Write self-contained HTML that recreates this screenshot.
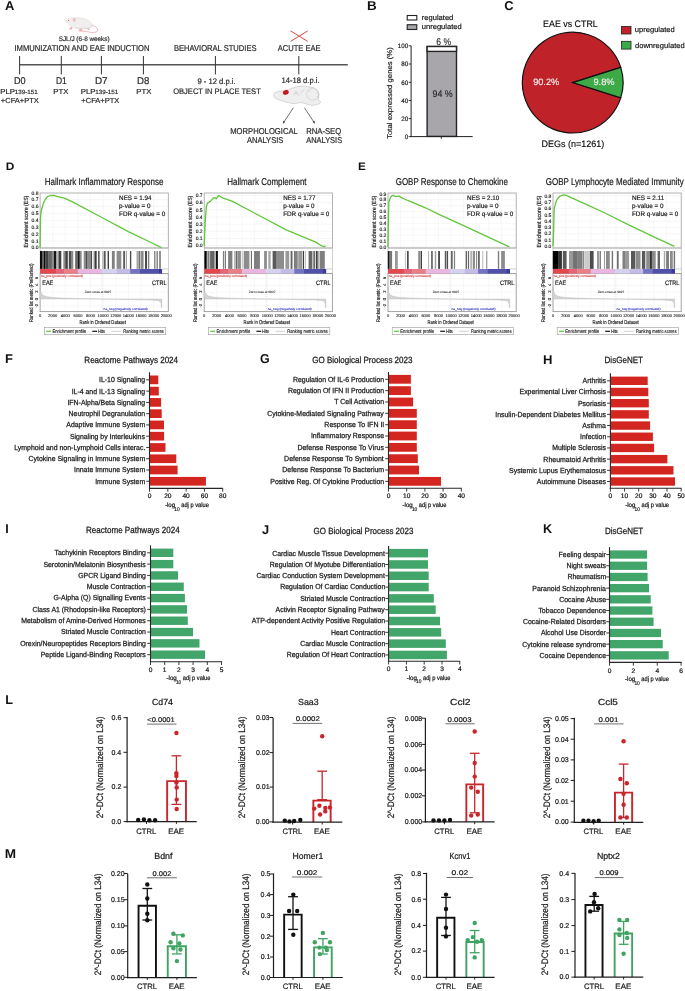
<!DOCTYPE html>
<html><head><meta charset="utf-8"><style>
html,body{margin:0;padding:0;background:#fff;width:685px;height:991px;overflow:hidden}
svg{display:block;font-family:"Liberation Sans",sans-serif;will-change:transform;text-rendering:geometricPrecision}
</style></head><body>
<svg width="685" height="991" viewBox="0 0 685 991">
<rect x="0" y="0" width="685" height="991" fill="#fff"/>
<text x="4.98" y="9.60" font-size="12.80" textLength="9.36" lengthAdjust="spacingAndGlyphs" font-weight="bold" fill="#111">A</text>
<g>
<path d="M90.6,25.0 C94.5,25.6 97.8,27.4 97.6,30.2 C97.2,32.4 93.5,32.8 90.2,32.2 C86.5,31.6 83,31.0 79.6,31.0" fill="none" stroke="#e9a0a0" stroke-width="0.70"/>
<path d="M65.2,20.8 C66.6,19.6 68.8,18.4 71.0,17.9 C74,17.6 77.5,17.6 80.6,17.9 C85,18.4 88.6,20.0 90.9,22.3 C92.2,23.8 92.4,25.6 91.6,26.8 C90.2,28.4 87.4,29.0 83.7,28.9 C80,28.8 76.6,28.4 73.5,27.4 C71.2,26.4 69.4,25 68.0,23.6 C66.8,22.6 65.6,21.8 65.2,20.8 Z" fill="#f1efee" stroke="#d5d2d0" stroke-width="0.40"/>
<path d="M76,27.8 C80,28.8 85,28.9 89.6,27.6 C91,26.8 91.6,25.6 91.2,24.4" fill="none" stroke="#dcd8d4" stroke-width="0.80"/>
<ellipse cx="74.2" cy="19.8" rx="1.3" ry="1.6" fill="#f0c0c0" stroke="#e4a8a8" stroke-width="0.3"/>
<circle cx="68.60" cy="20.40" r="0.50" fill="#c03838"/>
<path d="M70.2,27.0 C70.4,28.2 69.4,29.0 68.8,29.4 L71.6,29.6 C72.4,28.8 72.6,27.8 72.4,27.2" fill="#f0b0b0"/>
<path d="M79.6,28.8 C79.4,30 78.6,30.8 78.4,31.2 L82.4,31.0 C82.4,30.2 81.8,29.4 81.6,28.8 Z" fill="#f0b0b0"/>
<path d="M88.4,28.2 L90.6,29.6 L88.6,30.0 L86.6,28.8 Z" fill="#f0b0b0"/>
</g>
<text x="58.71" y="41.10" font-size="6.60" textLength="50.88" lengthAdjust="spacingAndGlyphs" fill="#2a2a2a" stroke="#2a2a2a" stroke-width="0.189">SJL/J (6-8 weeks)</text>
<text x="14.50" y="50.80" font-size="8.50" textLength="135.02" lengthAdjust="spacingAndGlyphs" fill="#2a2a2a" stroke="#2a2a2a" stroke-width="0.200">IMMUNIZATION AND EAE INDUCTION</text>
<text x="173.88" y="50.80" font-size="8.50" textLength="82.66" lengthAdjust="spacingAndGlyphs" fill="#2a2a2a" stroke="#2a2a2a" stroke-width="0.200">BEHAVIORAL STUDIES</text>
<text x="277.69" y="50.60" font-size="8.50" textLength="42.84" lengthAdjust="spacingAndGlyphs" fill="#2a2a2a" stroke="#2a2a2a" stroke-width="0.200">ACUTE EAE</text>
<line x1="290.60" y1="30.90" x2="307.70" y2="41.40" stroke="#d94a4a" stroke-width="1.00"/>
<line x1="290.60" y1="41.40" x2="307.70" y2="30.90" stroke="#d94a4a" stroke-width="1.00"/>
<line x1="19.60" y1="64.80" x2="347.80" y2="64.80" stroke="#555" stroke-width="1.40"/>
<line x1="19.60" y1="56.00" x2="19.60" y2="74.40" stroke="#333" stroke-width="1.00"/>
<line x1="61.30" y1="56.00" x2="61.30" y2="74.40" stroke="#333" stroke-width="1.00"/>
<line x1="101.40" y1="56.00" x2="101.40" y2="74.40" stroke="#333" stroke-width="1.00"/>
<line x1="143.40" y1="56.00" x2="143.40" y2="74.40" stroke="#333" stroke-width="1.00"/>
<line x1="215.40" y1="56.00" x2="215.40" y2="74.40" stroke="#333" stroke-width="1.00"/>
<line x1="298.80" y1="56.00" x2="298.80" y2="74.40" stroke="#333" stroke-width="1.00"/>
<text x="14.06" y="83.90" font-size="9.90" textLength="11.60" lengthAdjust="spacingAndGlyphs" fill="#2a2a2a" stroke="#2a2a2a" stroke-width="0.200">D0</text>
<text x="55.91" y="83.90" font-size="9.90" textLength="10.81" lengthAdjust="spacingAndGlyphs" fill="#2a2a2a" stroke="#2a2a2a" stroke-width="0.200">D1</text>
<text x="94.99" y="83.90" font-size="9.90" textLength="12.60" lengthAdjust="spacingAndGlyphs" fill="#2a2a2a" stroke="#2a2a2a" stroke-width="0.200">D7</text>
<text x="137.01" y="83.90" font-size="9.90" textLength="12.31" lengthAdjust="spacingAndGlyphs" fill="#2a2a2a" stroke="#2a2a2a" stroke-width="0.200">D8</text>
<text x="0.26" y="94.00" font-size="7.30" textLength="14.75" lengthAdjust="spacingAndGlyphs" fill="#2a2a2a" stroke="#2a2a2a" stroke-width="0.200">PLP</text>
<text x="14.72" y="94.00" font-size="6.00" textLength="22.98" lengthAdjust="spacingAndGlyphs" fill="#2a2a2a" stroke="#2a2a2a" stroke-width="0.171">139-151</text>
<text x="0.84" y="102.60" font-size="7.30" textLength="38.02" lengthAdjust="spacingAndGlyphs" fill="#2a2a2a" stroke="#2a2a2a" stroke-width="0.200">+CFA+PTX</text>
<text x="80.76" y="94.00" font-size="7.30" textLength="14.75" lengthAdjust="spacingAndGlyphs" fill="#2a2a2a" stroke="#2a2a2a" stroke-width="0.200">PLP</text>
<text x="95.22" y="94.00" font-size="6.00" textLength="22.98" lengthAdjust="spacingAndGlyphs" fill="#2a2a2a" stroke="#2a2a2a" stroke-width="0.171">139-151</text>
<text x="81.34" y="102.60" font-size="7.30" textLength="38.02" lengthAdjust="spacingAndGlyphs" fill="#2a2a2a" stroke="#2a2a2a" stroke-width="0.200">+CFA+PTX</text>
<text x="53.36" y="94.00" font-size="7.30" textLength="15.10" lengthAdjust="spacingAndGlyphs" fill="#2a2a2a" stroke="#2a2a2a" stroke-width="0.200">PTX</text>
<text x="136.37" y="94.00" font-size="7.30" textLength="14.99" lengthAdjust="spacingAndGlyphs" fill="#2a2a2a" stroke="#2a2a2a" stroke-width="0.200">PTX</text>
<text x="197.44" y="83.90" font-size="8.00" textLength="38.26" lengthAdjust="spacingAndGlyphs" fill="#2a2a2a" stroke="#2a2a2a" stroke-width="0.200">9 - 12 d.p.i.</text>
<text x="173.14" y="93.70" font-size="8.00" textLength="87.63" lengthAdjust="spacingAndGlyphs" fill="#2a2a2a" stroke="#2a2a2a" stroke-width="0.200">OBJECT IN PLACE TEST</text>
<text x="281.52" y="82.50" font-size="8.00" textLength="38.07" lengthAdjust="spacingAndGlyphs" fill="#2a2a2a" stroke="#2a2a2a" stroke-width="0.200">14-18 d.p.i.</text>
<path d="M274.0,94.0 C274.6,92.8 275.4,92.2 276.4,92.0 C278.6,91.6 280.8,91.2 282.9,90.8 C285,90.2 287.2,89.8 289.3,89.2 C291.8,88.4 294,87.4 296.5,86.8 C299,86.2 301.4,85.9 303.7,86.0 C305.2,86.1 306.5,86.4 307.8,86.8 C309.7,87 311.6,87.1 313.4,87.6 C315.2,88.4 316.6,89.4 317.4,90.8 C318.4,92.1 319.0,93.5 319.0,94.9 C319.2,96.6 318.8,98.2 318.2,99.7 C319.2,100.4 320.2,101.2 320.6,102.1 C320.4,103.2 319.4,103.8 318.2,104.1 C316.2,104.8 314,105.3 311.8,105.3 C309.6,104.9 307.4,104.2 305.3,103.7 C303.7,103.1 302.1,102.6 300.5,102.5 C298.1,102.9 295.7,103.6 293.3,103.7 C290.9,103.3 288.5,102.6 286.1,102.1 C283.9,101.6 281.8,100.8 279.6,100.1 C278,99.5 276.3,98.6 274.8,97.7 C273.8,96.6 273.6,95.2 274.0,94.0 Z" fill="#efefef" stroke="#b9b9b9" stroke-width="0.55"/>
<circle cx="312.6" cy="94.2" r="6.0" fill="none" stroke="#c2c2c2" stroke-width="0.5"/>
<path d="M307.6,90.6 L309.8,92.4 M308.8,89.2 L310.6,91.2 M315.8,92.6 L317.8,93.4 M316.4,96.6 L318.4,96.6" fill="none" stroke="#c8c8c8" stroke-width="0.45"/>
<path d="M293.3,95.4 L296.0,90.9 L298.9,95.7 M294.4,93.8 L297.6,93.8 M300.5,92.8 L304.5,89.6" fill="none" stroke="#bdbdbd" stroke-width="0.50"/>
<ellipse cx="285.8" cy="92.4" rx="3.0" ry="2.3" transform="rotate(-22 285.8 92.4)" fill="#c8171d"/>
<line x1="293.40" y1="107.70" x2="283.00" y2="123.40" stroke="#333" stroke-width="0.70"/>
<path d="M283.00,123.40 L283.35,120.82 L285.24,122.07 Z" fill="#333"/>
<line x1="304.40" y1="107.70" x2="314.80" y2="123.40" stroke="#333" stroke-width="0.70"/>
<path d="M314.80,123.40 L312.56,122.07 L314.45,120.82 Z" fill="#333"/>
<text x="230.17" y="134.30" font-size="8.50" textLength="67.68" lengthAdjust="spacingAndGlyphs" fill="#2a2a2a" stroke="#2a2a2a" stroke-width="0.200">MORPHOLOGICAL</text>
<text x="246.89" y="142.90" font-size="8.50" textLength="36.46" lengthAdjust="spacingAndGlyphs" fill="#2a2a2a" stroke="#2a2a2a" stroke-width="0.200">ANALYSIS</text>
<text x="306.17" y="134.30" font-size="8.50" textLength="35.10" lengthAdjust="spacingAndGlyphs" fill="#2a2a2a" stroke="#2a2a2a" stroke-width="0.200">RNA-SEQ</text>
<text x="306.19" y="142.90" font-size="8.50" textLength="35.95" lengthAdjust="spacingAndGlyphs" fill="#2a2a2a" stroke="#2a2a2a" stroke-width="0.200">ANALYSIS</text>
<text x="367.00" y="9.80" font-size="12.80" textLength="9.71" lengthAdjust="spacingAndGlyphs" font-weight="bold" fill="#111">B</text>
<rect x="407.20" y="15.50" width="9.60" height="4.50" fill="#fff" stroke="#222" stroke-width="1.10"/>
<rect x="407.20" y="24.70" width="9.60" height="4.80" fill="#a8a6aa" stroke="#222" stroke-width="1.10"/>
<text x="421.80" y="19.60" font-size="7.40" textLength="31.49" lengthAdjust="spacingAndGlyphs" stroke="#222" stroke-width="0.150">regulated</text>
<text x="421.81" y="28.90" font-size="7.40" textLength="39.88" lengthAdjust="spacingAndGlyphs" stroke="#222" stroke-width="0.150">unregulated</text>
<rect x="427.10" y="46.50" width="29.40" height="89.90" fill="#a8a6aa" stroke="#262626" stroke-width="1.40"/>
<rect x="427.10" y="46.50" width="29.40" height="4.90" fill="#fff" stroke="#262626" stroke-width="1.40"/>
<line x1="411.10" y1="45.80" x2="411.10" y2="137.10" stroke="#222" stroke-width="1.00"/>
<line x1="410.60" y1="136.60" x2="472.70" y2="136.60" stroke="#222" stroke-width="1.00"/>
<line x1="441.30" y1="136.60" x2="441.30" y2="138.90" stroke="#222" stroke-width="0.90"/>
<line x1="408.70" y1="45.80" x2="411.10" y2="45.80" stroke="#222" stroke-width="0.90"/>
<text x="408.30" y="48.00" font-size="6.30" text-anchor="end" stroke="#222" stroke-width="0.135">100</text>
<line x1="408.70" y1="64.00" x2="411.10" y2="64.00" stroke="#222" stroke-width="0.90"/>
<text x="408.30" y="66.20" font-size="6.30" text-anchor="end" stroke="#222" stroke-width="0.135">80</text>
<line x1="408.70" y1="82.30" x2="411.10" y2="82.30" stroke="#222" stroke-width="0.90"/>
<text x="408.30" y="84.50" font-size="6.30" text-anchor="end" stroke="#222" stroke-width="0.135">60</text>
<line x1="408.70" y1="100.50" x2="411.10" y2="100.50" stroke="#222" stroke-width="0.90"/>
<text x="408.30" y="102.70" font-size="6.30" text-anchor="end" stroke="#222" stroke-width="0.135">40</text>
<line x1="408.70" y1="118.60" x2="411.10" y2="118.60" stroke="#222" stroke-width="0.90"/>
<text x="408.30" y="120.80" font-size="6.30" text-anchor="end" stroke="#222" stroke-width="0.135">20</text>
<line x1="408.70" y1="136.60" x2="411.10" y2="136.60" stroke="#222" stroke-width="0.90"/>
<text x="408.30" y="138.80" font-size="6.30" text-anchor="end" stroke="#222" stroke-width="0.135">0</text>
<text x="436.37" y="44.60" font-size="9.80" textLength="14.74" lengthAdjust="spacingAndGlyphs" fill="#2a2a2a" stroke="#2a2a2a" stroke-width="0.150">6 %</text>
<text x="432.49" y="97.00" font-size="9.70" textLength="20.13" lengthAdjust="spacingAndGlyphs" fill="#2a2a2a" stroke="#2a2a2a" stroke-width="0.150">94 %</text>
<text x="391.60" y="138.80" font-size="7.00" textLength="91.60" lengthAdjust="spacingAndGlyphs" stroke="#222" stroke-width="0.150" transform="rotate(-90 391.60 138.80)">Total expressed genes (%)</text>
<text x="504.37" y="9.80" font-size="12.80" textLength="9.39" lengthAdjust="spacingAndGlyphs" font-weight="bold" fill="#111">C</text>
<text x="543.07" y="27.30" font-size="9.50" textLength="54.72" lengthAdjust="spacingAndGlyphs" stroke="#222" stroke-width="0.150">EAE vs CTRL</text>
<path d="M572.70,82.60 L620.73,67.33 A50.40,50.40 0 1,0 620.73,97.87 Z" fill="#c0222a" stroke="#111" stroke-width="1.20"/>
<path d="M572.70,82.60 L620.73,67.33 A50.40,50.40 0 0,1 620.73,97.87 Z" fill="#3daa48" stroke="#111" stroke-width="1.20"/>
<text x="533.17" y="85.30" font-size="9.30" textLength="26.06" lengthAdjust="spacingAndGlyphs" fill="#f4eeee" stroke="#f4eeee" stroke-width="0.150">90.2%</text>
<text x="593.46" y="85.30" font-size="9.30" textLength="21.17" lengthAdjust="spacingAndGlyphs" fill="#f4eeee" stroke="#f4eeee" stroke-width="0.150">9.8%</text>
<rect x="621.40" y="26.40" width="9.60" height="7.60" fill="#c0222a" stroke="#222" stroke-width="0.80"/>
<rect x="621.40" y="41.30" width="9.60" height="7.80" fill="#3daa48" stroke="#222" stroke-width="0.80"/>
<text x="634.81" y="32.00" font-size="7.40" textLength="39.98" lengthAdjust="spacingAndGlyphs" stroke="#222" stroke-width="0.150">upregulated</text>
<text x="634.98" y="47.80" font-size="7.40" textLength="49.71" lengthAdjust="spacingAndGlyphs" stroke="#222" stroke-width="0.150">downregulated</text>
<text x="541.56" y="146.60" font-size="9.30" textLength="62.59" lengthAdjust="spacingAndGlyphs" stroke="#222" stroke-width="0.150">DEGs (n=1261)</text>
<text x="5.80" y="169.70" font-size="11.00" textLength="8.60" lengthAdjust="spacingAndGlyphs" font-weight="bold" fill="#111">D</text>
<text x="357.90" y="169.70" font-size="11.00" textLength="7.80" lengthAdjust="spacingAndGlyphs" font-weight="bold" fill="#111">E</text>
<text x="44.70" y="184.80" font-size="9.90" textLength="118.70" lengthAdjust="spacingAndGlyphs" fill="#1a1a1a" stroke="#1a1a1a" stroke-width="0.200">Hallmark Inflammatory Response</text>
<path d="M52.71,193 V248 M52.71,274 V311.6 M65.32,193 V248 M65.32,274 V311.6 M77.93,193 V248 M77.93,274 V311.6 M90.54,193 V248 M90.54,274 V311.6 M103.15,193 V248 M103.15,274 V311.6 M115.76,193 V248 M115.76,274 V311.6 M128.37,193 V248 M128.37,274 V311.6 M140.98,193 V248 M140.98,274 V311.6 M153.59,193 V248 M153.59,274 V311.6 M40.10,247.70 H168.30 M40.10,240.85 H168.30 M40.10,234.00 H168.30 M40.10,227.15 H168.30 M40.10,220.30 H168.30 M40.10,213.45 H168.30 M40.10,206.60 H168.30 M40.10,199.75 H168.30 M40.10,278.60 H168.30 M40.10,285.40 H168.30 M40.10,292.20 H168.30 M40.10,305.80 H168.30" fill="none" stroke="#efefef" stroke-width="0.50"/>
<rect x="40.10" y="193.00" width="128.20" height="55.00" fill="none" stroke="#a0a0a0" stroke-width="0.80"/>
<rect x="40.10" y="248.00" width="128.20" height="25.60" fill="none" stroke="#b0b0b0" stroke-width="0.60"/>
<rect x="40.10" y="273.60" width="128.20" height="38.00" fill="none" stroke="#9a9a9a" stroke-width="0.90"/>
<text x="38.50" y="249.40" font-size="5.00" text-anchor="end" fill="#1a1a1a" stroke="#1a1a1a" stroke-width="0.143">0.0</text>
<text x="38.50" y="242.55" font-size="5.00" text-anchor="end" fill="#1a1a1a" stroke="#1a1a1a" stroke-width="0.143">0.1</text>
<text x="38.50" y="235.70" font-size="5.00" text-anchor="end" fill="#1a1a1a" stroke="#1a1a1a" stroke-width="0.143">0.2</text>
<text x="38.50" y="228.85" font-size="5.00" text-anchor="end" fill="#1a1a1a" stroke="#1a1a1a" stroke-width="0.143">0.3</text>
<text x="38.50" y="222.00" font-size="5.00" text-anchor="end" fill="#1a1a1a" stroke="#1a1a1a" stroke-width="0.143">0.4</text>
<text x="38.50" y="215.15" font-size="5.00" text-anchor="end" fill="#1a1a1a" stroke="#1a1a1a" stroke-width="0.143">0.5</text>
<text x="38.50" y="208.30" font-size="5.00" text-anchor="end" fill="#1a1a1a" stroke="#1a1a1a" stroke-width="0.143">0.6</text>
<text x="38.50" y="201.45" font-size="5.00" text-anchor="end" fill="#1a1a1a" stroke="#1a1a1a" stroke-width="0.143">0.7</text>
<text x="38.50" y="194.60" font-size="5.00" text-anchor="end" fill="#1a1a1a" stroke="#1a1a1a" stroke-width="0.143">0.8</text>
<polyline points="40.10,247.70 40.40,220.30 41.00,212.08 42.20,207.28 43.40,203.17 45.10,199.75 47.40,196.67 50.40,195.50 53.90,195.30 56.20,196.12 60.90,197.28 64.40,198.11 72.50,201.87 100.00,216.53 128.37,231.60 150.44,242.22 161.47,247.70" fill="none" stroke="#62c63c" stroke-width="1.3" stroke-linejoin="round"/>
<text x="119.10" y="200.40" font-size="6.50" textLength="32.30" lengthAdjust="spacingAndGlyphs" fill="#1a1a1a" stroke="#1a1a1a" stroke-width="0.186">NES = 1.94</text>
<text x="119.10" y="207.95" font-size="6.50" textLength="31.40" lengthAdjust="spacingAndGlyphs" fill="#1a1a1a" stroke="#1a1a1a" stroke-width="0.186">p-value = 0</text>
<text x="119.10" y="215.50" font-size="6.50" textLength="46.20" lengthAdjust="spacingAndGlyphs" fill="#1a1a1a" stroke="#1a1a1a" stroke-width="0.186">FDR q-value = 0</text>
<g><rect x="40.00" y="251" width="2.00" height="17.9" fill="#000" fill-opacity="0.95"/><rect x="42.00" y="251" width="1.50" height="17.9" fill="#000" fill-opacity="0.60"/><rect x="43.50" y="251" width="1.90" height="17.9" fill="#000" fill-opacity="0.95"/><rect x="45.40" y="251" width="3.10" height="17.9" fill="#000" fill-opacity="0.75"/><rect x="48.50" y="251" width="3.40" height="17.9" fill="#000" fill-opacity="0.60"/><rect x="51.90" y="251" width="2.00" height="17.9" fill="#000" fill-opacity="0.45"/><rect x="53.90" y="251" width="2.50" height="17.9" fill="#000" fill-opacity="0.90"/><rect x="57.40" y="251" width="1.50" height="17.9" fill="#000" fill-opacity="0.45"/><rect x="58.90" y="251" width="2.40" height="17.9" fill="#000" fill-opacity="0.75"/><rect x="63.30" y="251" width="2.00" height="17.9" fill="#000" fill-opacity="0.45"/><rect x="65.30" y="251" width="2.50" height="17.9" fill="#000" fill-opacity="0.75"/><rect x="68.80" y="251" width="2.50" height="17.9" fill="#000" fill-opacity="0.70"/><rect x="71.30" y="251" width="2.00" height="17.9" fill="#000" fill-opacity="0.45"/><rect x="75.20" y="251" width="2.50" height="17.9" fill="#000" fill-opacity="0.60"/><rect x="77.70" y="251" width="2.00" height="17.9" fill="#000" fill-opacity="0.90"/><rect x="79.70" y="251" width="2.00" height="17.9" fill="#000" fill-opacity="0.45"/><rect x="83.70" y="251" width="2.00" height="17.9" fill="#000" fill-opacity="0.45"/><rect x="85.70" y="251" width="1.50" height="17.9" fill="#000" fill-opacity="0.70"/><rect x="87.20" y="251" width="3.40" height="17.9" fill="#000" fill-opacity="0.45"/><rect x="90.60" y="251" width="1.50" height="17.9" fill="#000" fill-opacity="0.70"/><rect x="93.60" y="251" width="1.50" height="17.9" fill="#000" fill-opacity="0.45"/><rect x="95.10" y="251" width="1.50" height="17.9" fill="#000" fill-opacity="0.85"/><rect x="98.10" y="251" width="1.50" height="17.9" fill="#000" fill-opacity="0.70"/><rect x="102.40" y="251" width="0.90" height="17.9" fill="#000" fill-opacity="0.40"/><rect x="103.80" y="251" width="1.90" height="17.9" fill="#000" fill-opacity="0.65"/><rect x="107.60" y="251" width="1.40" height="17.9" fill="#000" fill-opacity="0.75"/><rect x="111.90" y="251" width="2.80" height="17.9" fill="#000" fill-opacity="0.50"/><rect x="116.60" y="251" width="4.70" height="17.9" fill="#000" fill-opacity="0.45"/><rect x="123.20" y="251" width="1.90" height="17.9" fill="#000" fill-opacity="0.65"/><rect x="126.10" y="251" width="0.90" height="17.9" fill="#000" fill-opacity="0.40"/><rect x="129.90" y="251" width="1.40" height="17.9" fill="#000" fill-opacity="0.70"/><rect x="136.50" y="251" width="1.50" height="17.9" fill="#000" fill-opacity="0.35"/><rect x="138.40" y="251" width="1.90" height="17.9" fill="#000" fill-opacity="0.55"/><rect x="140.80" y="251" width="2.80" height="17.9" fill="#000" fill-opacity="0.45"/><rect x="145.00" y="251" width="2.00" height="17.9" fill="#000" fill-opacity="0.70"/><rect x="147.90" y="251" width="1.40" height="17.9" fill="#000" fill-opacity="0.50"/><rect x="154.00" y="251" width="1.50" height="17.9" fill="#000" fill-opacity="0.45"/><rect x="156.50" y="251" width="1.40" height="17.9" fill="#000" fill-opacity="0.50"/><rect x="159.30" y="251" width="1.40" height="17.9" fill="#000" fill-opacity="0.60"/></g>
<rect x="40.10" y="269.00" width="16.12" height="4.60" fill="#e5474f"/>
<rect x="55.92" y="269.00" width="8.82" height="4.60" fill="#e56478"/>
<rect x="64.44" y="269.00" width="13.69" height="4.60" fill="#ea7f88"/>
<rect x="77.82" y="269.00" width="24.64" height="4.60" fill="#e8b6de"/>
<rect x="102.16" y="269.00" width="14.90" height="4.60" fill="#d4d2ee"/>
<rect x="116.76" y="269.00" width="13.69" height="4.60" fill="#c4bce4"/>
<rect x="130.15" y="269.00" width="10.03" height="4.60" fill="#7373c4"/>
<rect x="139.88" y="269.00" width="19.28" height="4.60" fill="#5050aa"/>
<rect x="158.87" y="269.00" width="3.22" height="4.60" fill="#3c3ca0"/>
<text x="40.90" y="277.30" font-size="3.20" textLength="42.00" lengthAdjust="spacingAndGlyphs" fill="#d03030" stroke="#d03030" stroke-width="0.091">na_pos (positively correlated)</text>
<text x="103.60" y="310.20" font-size="3.20" textLength="44.00" lengthAdjust="spacingAndGlyphs" fill="#3030c0" stroke="#3030c0" stroke-width="0.091">na_neg (negatively correlated)</text>
<line x1="161.79" y1="269.00" x2="168.30" y2="269.00" stroke="#b0b0b0" stroke-width="0.60"/>
<path d="M40.10,299.00 L40.10,286.76 L40.48,290.16 L41.05,292.54 L42.31,294.58 L44.51,295.94 L47.67,296.79 L52.71,297.47 L62.17,297.98 L77.93,298.49 L101.89,299.00 L128.37,299.51 L150.44,300.02 L158.63,300.70 L160.84,302.40 L161.47,307.84 L161.79,307.84 L161.79,299.00 Z" fill="#d4d4d4" stroke="#b8b8b8" stroke-width="0.40"/>
<line x1="102.06" y1="274.00" x2="102.06" y2="311.60" stroke="#cfcfcf" stroke-width="0.50" stroke-dasharray="1,1"/>
<text x="98.06" y="293.40" font-size="3.20" text-anchor="middle" fill="#333" stroke="#333" stroke-width="0.091">Zero cross at 9827</text>
<text x="37.90" y="278.00" font-size="4.20" text-anchor="middle" fill="#1a1a1a" stroke="#1a1a1a" stroke-width="0.120" transform="rotate(-90 37.90 278.00)">6</text>
<text x="37.90" y="284.70" font-size="4.20" text-anchor="middle" fill="#1a1a1a" stroke="#1a1a1a" stroke-width="0.120" transform="rotate(-90 37.90 284.70)">4</text>
<text x="37.90" y="291.50" font-size="4.20" text-anchor="middle" fill="#1a1a1a" stroke="#1a1a1a" stroke-width="0.120" transform="rotate(-90 37.90 291.50)">2</text>
<text x="37.90" y="299.00" font-size="4.20" text-anchor="middle" fill="#1a1a1a" stroke="#1a1a1a" stroke-width="0.120" transform="rotate(-90 37.90 299.00)">0</text>
<text x="37.90" y="305.70" font-size="4.20" text-anchor="middle" fill="#1a1a1a" stroke="#1a1a1a" stroke-width="0.120" transform="rotate(-90 37.90 305.70)">-2</text>
<text x="42.20" y="284.70" font-size="6.40" textLength="11.10" lengthAdjust="spacingAndGlyphs" fill="#1a1a1a" stroke="#1a1a1a" stroke-width="0.183">EAE</text>
<text x="152.00" y="284.90" font-size="6.40" textLength="14.50" lengthAdjust="spacingAndGlyphs" fill="#1a1a1a" stroke="#1a1a1a" stroke-width="0.183">CTRL</text>
<text x="40.10" y="316.80" font-size="4.00" text-anchor="middle" fill="#1a1a1a" stroke="#1a1a1a" stroke-width="0.114">0</text>
<text x="52.71" y="316.80" font-size="4.00" text-anchor="middle" fill="#1a1a1a" stroke="#1a1a1a" stroke-width="0.114">2000</text>
<text x="65.32" y="316.80" font-size="4.00" text-anchor="middle" fill="#1a1a1a" stroke="#1a1a1a" stroke-width="0.114">4000</text>
<text x="77.93" y="316.80" font-size="4.00" text-anchor="middle" fill="#1a1a1a" stroke="#1a1a1a" stroke-width="0.114">6000</text>
<text x="90.54" y="316.80" font-size="4.00" text-anchor="middle" fill="#1a1a1a" stroke="#1a1a1a" stroke-width="0.114">8000</text>
<text x="103.15" y="316.80" font-size="4.00" text-anchor="middle" fill="#1a1a1a" stroke="#1a1a1a" stroke-width="0.114">10000</text>
<text x="115.76" y="316.80" font-size="4.00" text-anchor="middle" fill="#1a1a1a" stroke="#1a1a1a" stroke-width="0.114">12000</text>
<text x="128.37" y="316.80" font-size="4.00" text-anchor="middle" fill="#1a1a1a" stroke="#1a1a1a" stroke-width="0.114">14000</text>
<text x="140.98" y="316.80" font-size="4.00" text-anchor="middle" fill="#1a1a1a" stroke="#1a1a1a" stroke-width="0.114">16000</text>
<text x="153.59" y="316.80" font-size="4.00" text-anchor="middle" fill="#1a1a1a" stroke="#1a1a1a" stroke-width="0.114">18000</text>
<text x="166.20" y="316.80" font-size="4.00" text-anchor="middle" fill="#1a1a1a" stroke="#1a1a1a" stroke-width="0.114">20000</text>
<text x="79.50" y="324.20" font-size="5.60" textLength="46.30" lengthAdjust="spacingAndGlyphs" fill="#1a1a1a" stroke="#1a1a1a" stroke-width="0.160">Rank in Ordered Dataset</text>
<text x="27.70" y="247.50" font-size="5.90" textLength="51.80" lengthAdjust="spacingAndGlyphs" fill="#1a1a1a" stroke="#1a1a1a" stroke-width="0.169" transform="rotate(-90 27.70 247.50)">Enrichment score (ES)</text>
<text x="32.50" y="322.00" font-size="5.40" textLength="58.30" lengthAdjust="spacingAndGlyphs" fill="#1a1a1a" stroke="#1a1a1a" stroke-width="0.154" transform="rotate(-90 32.50 322.00)">Ranked list metric (PreRanked)</text>
<rect x="44.30" y="327.50" width="121.40" height="7.20" fill="#fff" stroke="#9a9a9a" stroke-width="0.60"/>
<line x1="46.10" y1="331.30" x2="51.10" y2="331.30" stroke="#5ec43a" stroke-width="1.20"/>
<text x="52.40" y="332.90" font-size="5.00" textLength="33.80" lengthAdjust="spacingAndGlyphs" fill="#1a1a1a" stroke="#1a1a1a" stroke-width="0.143">Enrichment profile</text>
<line x1="92.30" y1="331.30" x2="97.10" y2="331.30" stroke="#111" stroke-width="1.20"/>
<text x="98.00" y="332.90" font-size="5.00" textLength="7.00" lengthAdjust="spacingAndGlyphs" fill="#1a1a1a" stroke="#1a1a1a" stroke-width="0.143">Hits</text>
<line x1="111.30" y1="331.30" x2="120.80" y2="331.30" stroke="#bbb" stroke-width="0.70"/>
<text x="123.20" y="332.90" font-size="5.00" textLength="40.60" lengthAdjust="spacingAndGlyphs" fill="#1a1a1a" stroke="#1a1a1a" stroke-width="0.143">Ranking metric scores</text>
<text x="227.30" y="184.80" font-size="9.90" textLength="79.30" lengthAdjust="spacingAndGlyphs" fill="#1a1a1a" stroke="#1a1a1a" stroke-width="0.200">Hallmark Complement</text>
<path d="M216.81,193 V248 M216.81,274 V311.6 M229.42,193 V248 M229.42,274 V311.6 M242.03,193 V248 M242.03,274 V311.6 M254.64,193 V248 M254.64,274 V311.6 M267.25,193 V248 M267.25,274 V311.6 M279.86,193 V248 M279.86,274 V311.6 M292.47,193 V248 M292.47,274 V311.6 M305.08,193 V248 M305.08,274 V311.6 M317.69,193 V248 M317.69,274 V311.6 M204.20,245.70 H332.40 M204.20,238.53 H332.40 M204.20,231.36 H332.40 M204.20,224.19 H332.40 M204.20,217.02 H332.40 M204.20,209.85 H332.40 M204.20,202.68 H332.40 M204.20,195.51 H332.40 M204.20,278.60 H332.40 M204.20,285.40 H332.40 M204.20,292.20 H332.40 M204.20,305.80 H332.40" fill="none" stroke="#efefef" stroke-width="0.50"/>
<rect x="204.20" y="193.00" width="128.20" height="55.00" fill="none" stroke="#a0a0a0" stroke-width="0.80"/>
<rect x="204.20" y="248.00" width="128.20" height="25.60" fill="none" stroke="#b0b0b0" stroke-width="0.60"/>
<rect x="204.20" y="273.60" width="128.20" height="38.00" fill="none" stroke="#9a9a9a" stroke-width="0.90"/>
<text x="202.60" y="247.40" font-size="5.00" text-anchor="end" fill="#1a1a1a" stroke="#1a1a1a" stroke-width="0.143">0.0</text>
<text x="202.60" y="240.23" font-size="5.00" text-anchor="end" fill="#1a1a1a" stroke="#1a1a1a" stroke-width="0.143">0.1</text>
<text x="202.60" y="233.06" font-size="5.00" text-anchor="end" fill="#1a1a1a" stroke="#1a1a1a" stroke-width="0.143">0.2</text>
<text x="202.60" y="225.89" font-size="5.00" text-anchor="end" fill="#1a1a1a" stroke="#1a1a1a" stroke-width="0.143">0.3</text>
<text x="202.60" y="218.72" font-size="5.00" text-anchor="end" fill="#1a1a1a" stroke="#1a1a1a" stroke-width="0.143">0.4</text>
<text x="202.60" y="211.55" font-size="5.00" text-anchor="end" fill="#1a1a1a" stroke="#1a1a1a" stroke-width="0.143">0.5</text>
<text x="202.60" y="204.38" font-size="5.00" text-anchor="end" fill="#1a1a1a" stroke="#1a1a1a" stroke-width="0.143">0.6</text>
<text x="202.60" y="197.21" font-size="5.00" text-anchor="end" fill="#1a1a1a" stroke="#1a1a1a" stroke-width="0.143">0.7</text>
<polyline points="204.20,245.70 205.10,223.47 206.30,206.98 207.40,203.11 210.40,201.39 213.30,197.80 215.00,197.59 216.20,198.81 218.50,195.51 223.20,198.09 232.60,201.39 260.00,216.02 286.16,229.93 315.80,242.11 321.47,245.70 324.00,246.78 325.57,245.70" fill="none" stroke="#62c63c" stroke-width="1.3" stroke-linejoin="round"/>
<text x="283.20" y="200.40" font-size="6.50" textLength="32.30" lengthAdjust="spacingAndGlyphs" fill="#1a1a1a" stroke="#1a1a1a" stroke-width="0.186">NES = 1.77</text>
<text x="283.20" y="207.95" font-size="6.50" textLength="31.40" lengthAdjust="spacingAndGlyphs" fill="#1a1a1a" stroke="#1a1a1a" stroke-width="0.186">p-value = 0</text>
<text x="283.20" y="215.50" font-size="6.50" textLength="46.20" lengthAdjust="spacingAndGlyphs" fill="#1a1a1a" stroke="#1a1a1a" stroke-width="0.186">FDR q-value = 0</text>
<g><rect x="204.40" y="251" width="2.30" height="17.9" fill="#000" fill-opacity="1.00"/><rect x="206.70" y="251" width="1.20" height="17.9" fill="#000" fill-opacity="0.30"/><rect x="207.90" y="251" width="1.70" height="17.9" fill="#000" fill-opacity="0.50"/><rect x="210.10" y="251" width="4.20" height="17.9" fill="#000" fill-opacity="0.60"/><rect x="214.30" y="251" width="1.50" height="17.9" fill="#000" fill-opacity="0.35"/><rect x="216.00" y="251" width="1.90" height="17.9" fill="#000" fill-opacity="0.95"/><rect x="222.90" y="251" width="1.10" height="17.9" fill="#000" fill-opacity="0.50"/><rect x="224.80" y="251" width="0.90" height="17.9" fill="#000" fill-opacity="0.75"/><rect x="228.10" y="251" width="4.30" height="17.9" fill="#000" fill-opacity="0.50"/><rect x="234.30" y="251" width="0.90" height="17.9" fill="#000" fill-opacity="0.40"/><rect x="235.70" y="251" width="1.60" height="17.9" fill="#000" fill-opacity="0.60"/><rect x="237.60" y="251" width="3.30" height="17.9" fill="#000" fill-opacity="0.45"/><rect x="241.80" y="251" width="1.00" height="17.9" fill="#000" fill-opacity="0.25"/><rect x="243.70" y="251" width="5.70" height="17.9" fill="#000" fill-opacity="0.45"/><rect x="250.90" y="251" width="0.90" height="17.9" fill="#000" fill-opacity="0.70"/><rect x="254.00" y="251" width="5.90" height="17.9" fill="#000" fill-opacity="0.50"/><rect x="264.10" y="251" width="2.80" height="17.9" fill="#000" fill-opacity="0.45"/><rect x="268.30" y="251" width="2.40" height="17.9" fill="#000" fill-opacity="0.35"/><rect x="272.60" y="251" width="3.80" height="17.9" fill="#000" fill-opacity="0.65"/><rect x="276.40" y="251" width="7.60" height="17.9" fill="#000" fill-opacity="0.45"/><rect x="285.40" y="251" width="3.80" height="17.9" fill="#000" fill-opacity="0.40"/><rect x="290.60" y="251" width="1.90" height="17.9" fill="#000" fill-opacity="0.60"/><rect x="293.90" y="251" width="3.80" height="17.9" fill="#000" fill-opacity="0.50"/><rect x="298.20" y="251" width="4.30" height="17.9" fill="#000" fill-opacity="0.40"/><rect x="303.00" y="251" width="0.90" height="17.9" fill="#000" fill-opacity="0.85"/><rect x="304.80" y="251" width="1.00" height="17.9" fill="#000" fill-opacity="0.30"/><rect x="308.60" y="251" width="3.80" height="17.9" fill="#000" fill-opacity="0.60"/><rect x="313.40" y="251" width="1.40" height="17.9" fill="#000" fill-opacity="0.70"/><rect x="315.80" y="251" width="1.90" height="17.9" fill="#000" fill-opacity="0.75"/><rect x="318.10" y="251" width="1.50" height="17.9" fill="#000" fill-opacity="0.35"/><rect x="320.00" y="251" width="4.80" height="17.9" fill="#000" fill-opacity="0.50"/></g>
<rect x="204.20" y="269.00" width="16.12" height="4.60" fill="#e5474f"/>
<rect x="220.02" y="269.00" width="8.82" height="4.60" fill="#e56478"/>
<rect x="228.54" y="269.00" width="13.69" height="4.60" fill="#ea7f88"/>
<rect x="241.92" y="269.00" width="24.64" height="4.60" fill="#e8b6de"/>
<rect x="266.26" y="269.00" width="14.90" height="4.60" fill="#d4d2ee"/>
<rect x="280.86" y="269.00" width="13.69" height="4.60" fill="#c4bce4"/>
<rect x="294.25" y="269.00" width="10.03" height="4.60" fill="#7373c4"/>
<rect x="303.98" y="269.00" width="19.28" height="4.60" fill="#5050aa"/>
<rect x="322.97" y="269.00" width="3.22" height="4.60" fill="#3c3ca0"/>
<text x="205.00" y="277.30" font-size="3.20" textLength="42.00" lengthAdjust="spacingAndGlyphs" fill="#d03030" stroke="#d03030" stroke-width="0.091">na_pos (positively correlated)</text>
<text x="267.70" y="310.20" font-size="3.20" textLength="44.00" lengthAdjust="spacingAndGlyphs" fill="#3030c0" stroke="#3030c0" stroke-width="0.091">na_neg (negatively correlated)</text>
<line x1="325.89" y1="269.00" x2="332.40" y2="269.00" stroke="#b0b0b0" stroke-width="0.60"/>
<path d="M204.20,299.00 L204.20,286.76 L204.58,290.16 L205.15,292.54 L206.41,294.58 L208.61,295.94 L211.77,296.79 L216.81,297.47 L226.27,297.98 L242.03,298.49 L265.99,299.00 L292.47,299.51 L314.54,300.02 L322.73,300.70 L324.94,302.40 L325.57,307.84 L325.89,307.84 L325.89,299.00 Z" fill="#d4d4d4" stroke="#b8b8b8" stroke-width="0.40"/>
<line x1="266.16" y1="274.00" x2="266.16" y2="311.60" stroke="#cfcfcf" stroke-width="0.50" stroke-dasharray="1,1"/>
<text x="262.16" y="293.40" font-size="3.20" text-anchor="middle" fill="#333" stroke="#333" stroke-width="0.091">Zero cross at 9827</text>
<text x="202.00" y="278.00" font-size="4.20" text-anchor="middle" fill="#1a1a1a" stroke="#1a1a1a" stroke-width="0.120" transform="rotate(-90 202.00 278.00)">6</text>
<text x="202.00" y="284.70" font-size="4.20" text-anchor="middle" fill="#1a1a1a" stroke="#1a1a1a" stroke-width="0.120" transform="rotate(-90 202.00 284.70)">4</text>
<text x="202.00" y="291.50" font-size="4.20" text-anchor="middle" fill="#1a1a1a" stroke="#1a1a1a" stroke-width="0.120" transform="rotate(-90 202.00 291.50)">2</text>
<text x="202.00" y="299.00" font-size="4.20" text-anchor="middle" fill="#1a1a1a" stroke="#1a1a1a" stroke-width="0.120" transform="rotate(-90 202.00 299.00)">0</text>
<text x="202.00" y="305.70" font-size="4.20" text-anchor="middle" fill="#1a1a1a" stroke="#1a1a1a" stroke-width="0.120" transform="rotate(-90 202.00 305.70)">-2</text>
<text x="206.30" y="284.70" font-size="6.40" textLength="11.10" lengthAdjust="spacingAndGlyphs" fill="#1a1a1a" stroke="#1a1a1a" stroke-width="0.183">EAE</text>
<text x="316.10" y="284.90" font-size="6.40" textLength="14.50" lengthAdjust="spacingAndGlyphs" fill="#1a1a1a" stroke="#1a1a1a" stroke-width="0.183">CTRL</text>
<text x="204.20" y="316.80" font-size="4.00" text-anchor="middle" fill="#1a1a1a" stroke="#1a1a1a" stroke-width="0.114">0</text>
<text x="216.81" y="316.80" font-size="4.00" text-anchor="middle" fill="#1a1a1a" stroke="#1a1a1a" stroke-width="0.114">2000</text>
<text x="229.42" y="316.80" font-size="4.00" text-anchor="middle" fill="#1a1a1a" stroke="#1a1a1a" stroke-width="0.114">4000</text>
<text x="242.03" y="316.80" font-size="4.00" text-anchor="middle" fill="#1a1a1a" stroke="#1a1a1a" stroke-width="0.114">6000</text>
<text x="254.64" y="316.80" font-size="4.00" text-anchor="middle" fill="#1a1a1a" stroke="#1a1a1a" stroke-width="0.114">8000</text>
<text x="267.25" y="316.80" font-size="4.00" text-anchor="middle" fill="#1a1a1a" stroke="#1a1a1a" stroke-width="0.114">10000</text>
<text x="279.86" y="316.80" font-size="4.00" text-anchor="middle" fill="#1a1a1a" stroke="#1a1a1a" stroke-width="0.114">12000</text>
<text x="292.47" y="316.80" font-size="4.00" text-anchor="middle" fill="#1a1a1a" stroke="#1a1a1a" stroke-width="0.114">14000</text>
<text x="305.08" y="316.80" font-size="4.00" text-anchor="middle" fill="#1a1a1a" stroke="#1a1a1a" stroke-width="0.114">16000</text>
<text x="317.69" y="316.80" font-size="4.00" text-anchor="middle" fill="#1a1a1a" stroke="#1a1a1a" stroke-width="0.114">18000</text>
<text x="330.30" y="316.80" font-size="4.00" text-anchor="middle" fill="#1a1a1a" stroke="#1a1a1a" stroke-width="0.114">20000</text>
<text x="243.60" y="324.20" font-size="5.60" textLength="46.30" lengthAdjust="spacingAndGlyphs" fill="#1a1a1a" stroke="#1a1a1a" stroke-width="0.160">Rank in Ordered Dataset</text>
<text x="191.80" y="247.50" font-size="5.90" textLength="51.80" lengthAdjust="spacingAndGlyphs" fill="#1a1a1a" stroke="#1a1a1a" stroke-width="0.169" transform="rotate(-90 191.80 247.50)">Enrichment score (ES)</text>
<text x="196.60" y="322.00" font-size="5.40" textLength="58.30" lengthAdjust="spacingAndGlyphs" fill="#1a1a1a" stroke="#1a1a1a" stroke-width="0.154" transform="rotate(-90 196.60 322.00)">Ranked list metric (PreRanked)</text>
<rect x="208.40" y="327.50" width="121.40" height="7.20" fill="#fff" stroke="#9a9a9a" stroke-width="0.60"/>
<line x1="210.20" y1="331.30" x2="215.20" y2="331.30" stroke="#5ec43a" stroke-width="1.20"/>
<text x="216.50" y="332.90" font-size="5.00" textLength="33.80" lengthAdjust="spacingAndGlyphs" fill="#1a1a1a" stroke="#1a1a1a" stroke-width="0.143">Enrichment profile</text>
<line x1="256.40" y1="331.30" x2="261.20" y2="331.30" stroke="#111" stroke-width="1.20"/>
<text x="262.10" y="332.90" font-size="5.00" textLength="7.00" lengthAdjust="spacingAndGlyphs" fill="#1a1a1a" stroke="#1a1a1a" stroke-width="0.143">Hits</text>
<line x1="275.40" y1="331.30" x2="284.90" y2="331.30" stroke="#bbb" stroke-width="0.70"/>
<text x="287.30" y="332.90" font-size="5.00" textLength="40.60" lengthAdjust="spacingAndGlyphs" fill="#1a1a1a" stroke="#1a1a1a" stroke-width="0.143">Ranking metric scores</text>
<text x="395.70" y="184.80" font-size="9.90" textLength="112.30" lengthAdjust="spacingAndGlyphs" fill="#1a1a1a" stroke="#1a1a1a" stroke-width="0.200">GOBP Response to Chemokine</text>
<path d="M400.61,193 V248 M400.61,274 V311.6 M413.22,193 V248 M413.22,274 V311.6 M425.83,193 V248 M425.83,274 V311.6 M438.44,193 V248 M438.44,274 V311.6 M451.05,193 V248 M451.05,274 V311.6 M463.66,193 V248 M463.66,274 V311.6 M476.27,193 V248 M476.27,274 V311.6 M488.88,193 V248 M488.88,274 V311.6 M501.49,193 V248 M501.49,274 V311.6 M388.00,246.90 H516.20 M388.00,241.00 H516.20 M388.00,235.10 H516.20 M388.00,229.20 H516.20 M388.00,223.30 H516.20 M388.00,217.40 H516.20 M388.00,211.50 H516.20 M388.00,205.60 H516.20 M388.00,199.70 H516.20 M388.00,193.80 H516.20 M388.00,278.60 H516.20 M388.00,285.40 H516.20 M388.00,292.20 H516.20 M388.00,305.80 H516.20" fill="none" stroke="#efefef" stroke-width="0.50"/>
<rect x="388.00" y="193.00" width="128.20" height="55.00" fill="none" stroke="#a0a0a0" stroke-width="0.80"/>
<rect x="388.00" y="248.00" width="128.20" height="25.60" fill="none" stroke="#b0b0b0" stroke-width="0.60"/>
<rect x="388.00" y="273.60" width="128.20" height="38.00" fill="none" stroke="#9a9a9a" stroke-width="0.90"/>
<text x="386.40" y="248.60" font-size="5.00" text-anchor="end" fill="#1a1a1a" stroke="#1a1a1a" stroke-width="0.143">0.0</text>
<text x="386.40" y="242.70" font-size="5.00" text-anchor="end" fill="#1a1a1a" stroke="#1a1a1a" stroke-width="0.143">0.1</text>
<text x="386.40" y="236.80" font-size="5.00" text-anchor="end" fill="#1a1a1a" stroke="#1a1a1a" stroke-width="0.143">0.2</text>
<text x="386.40" y="230.90" font-size="5.00" text-anchor="end" fill="#1a1a1a" stroke="#1a1a1a" stroke-width="0.143">0.3</text>
<text x="386.40" y="225.00" font-size="5.00" text-anchor="end" fill="#1a1a1a" stroke="#1a1a1a" stroke-width="0.143">0.4</text>
<text x="386.40" y="219.10" font-size="5.00" text-anchor="end" fill="#1a1a1a" stroke="#1a1a1a" stroke-width="0.143">0.5</text>
<text x="386.40" y="213.20" font-size="5.00" text-anchor="end" fill="#1a1a1a" stroke="#1a1a1a" stroke-width="0.143">0.6</text>
<text x="386.40" y="207.30" font-size="5.00" text-anchor="end" fill="#1a1a1a" stroke="#1a1a1a" stroke-width="0.143">0.7</text>
<text x="386.40" y="201.40" font-size="5.00" text-anchor="end" fill="#1a1a1a" stroke="#1a1a1a" stroke-width="0.143">0.8</text>
<text x="386.40" y="195.50" font-size="5.00" text-anchor="end" fill="#1a1a1a" stroke="#1a1a1a" stroke-width="0.143">0.9</text>
<polyline points="388.00,246.90 388.40,220.00 388.80,202.47 389.80,199.11 391.50,196.10 393.30,195.28 395.00,196.40 397.40,196.40 399.10,196.10 400.90,197.34 406.70,200.00 409.00,200.82 418.40,204.89 425.40,207.78 440.00,214.80 463.66,225.66 488.88,237.46 509.37,246.90" fill="none" stroke="#62c63c" stroke-width="1.3" stroke-linejoin="round"/>
<text x="467.00" y="200.40" font-size="6.50" textLength="32.30" lengthAdjust="spacingAndGlyphs" fill="#1a1a1a" stroke="#1a1a1a" stroke-width="0.186">NES = 2.10</text>
<text x="467.00" y="207.95" font-size="6.50" textLength="31.40" lengthAdjust="spacingAndGlyphs" fill="#1a1a1a" stroke="#1a1a1a" stroke-width="0.186">p-value = 0</text>
<text x="467.00" y="215.50" font-size="6.50" textLength="46.20" lengthAdjust="spacingAndGlyphs" fill="#1a1a1a" stroke="#1a1a1a" stroke-width="0.186">FDR q-value = 0</text>
<g><rect x="387.80" y="251" width="1.20" height="17.9" fill="#000" fill-opacity="0.90"/><rect x="389.00" y="251" width="1.20" height="17.9" fill="#000" fill-opacity="0.60"/><rect x="390.20" y="251" width="1.90" height="17.9" fill="#000" fill-opacity="0.55"/><rect x="395.00" y="251" width="2.80" height="17.9" fill="#000" fill-opacity="0.40"/><rect x="404.90" y="251" width="0.80" height="17.9" fill="#000" fill-opacity="0.30"/><rect x="407.00" y="251" width="1.70" height="17.9" fill="#000" fill-opacity="0.70"/><rect x="418.20" y="251" width="1.90" height="17.9" fill="#000" fill-opacity="0.45"/><rect x="420.60" y="251" width="1.40" height="17.9" fill="#000" fill-opacity="0.75"/><rect x="428.20" y="251" width="0.90" height="17.9" fill="#000" fill-opacity="0.35"/><rect x="431.00" y="251" width="1.90" height="17.9" fill="#000" fill-opacity="0.55"/><rect x="434.80" y="251" width="1.40" height="17.9" fill="#000" fill-opacity="0.40"/><rect x="438.10" y="251" width="1.90" height="17.9" fill="#000" fill-opacity="0.70"/><rect x="444.80" y="251" width="1.40" height="17.9" fill="#000" fill-opacity="0.65"/><rect x="446.70" y="251" width="1.40" height="17.9" fill="#000" fill-opacity="0.70"/><rect x="450.80" y="251" width="1.90" height="17.9" fill="#000" fill-opacity="0.60"/><rect x="453.90" y="251" width="1.20" height="17.9" fill="#000" fill-opacity="0.50"/><rect x="465.60" y="251" width="1.40" height="17.9" fill="#000" fill-opacity="0.60"/><rect x="467.90" y="251" width="1.20" height="17.9" fill="#000" fill-opacity="0.60"/><rect x="470.30" y="251" width="1.90" height="17.9" fill="#000" fill-opacity="0.30"/><rect x="472.90" y="251" width="2.10" height="17.9" fill="#000" fill-opacity="0.45"/><rect x="476.00" y="251" width="0.90" height="17.9" fill="#000" fill-opacity="0.50"/><rect x="477.90" y="251" width="1.90" height="17.9" fill="#000" fill-opacity="0.60"/><rect x="482.20" y="251" width="1.10" height="17.9" fill="#000" fill-opacity="0.25"/><rect x="486.00" y="251" width="1.40" height="17.9" fill="#000" fill-opacity="0.35"/><rect x="497.80" y="251" width="1.40" height="17.9" fill="#000" fill-opacity="0.50"/><rect x="501.10" y="251" width="3.80" height="17.9" fill="#000" fill-opacity="0.45"/></g>
<rect x="388.00" y="269.00" width="16.12" height="4.60" fill="#e5474f"/>
<rect x="403.82" y="269.00" width="8.82" height="4.60" fill="#e56478"/>
<rect x="412.34" y="269.00" width="13.69" height="4.60" fill="#ea7f88"/>
<rect x="425.72" y="269.00" width="24.64" height="4.60" fill="#e8b6de"/>
<rect x="450.06" y="269.00" width="14.90" height="4.60" fill="#d4d2ee"/>
<rect x="464.66" y="269.00" width="13.69" height="4.60" fill="#c4bce4"/>
<rect x="478.05" y="269.00" width="10.03" height="4.60" fill="#7373c4"/>
<rect x="487.78" y="269.00" width="19.28" height="4.60" fill="#5050aa"/>
<rect x="506.77" y="269.00" width="3.22" height="4.60" fill="#3c3ca0"/>
<text x="388.80" y="277.30" font-size="3.20" textLength="42.00" lengthAdjust="spacingAndGlyphs" fill="#d03030" stroke="#d03030" stroke-width="0.091">na_pos (positively correlated)</text>
<text x="451.50" y="310.20" font-size="3.20" textLength="44.00" lengthAdjust="spacingAndGlyphs" fill="#3030c0" stroke="#3030c0" stroke-width="0.091">na_neg (negatively correlated)</text>
<line x1="509.69" y1="269.00" x2="516.20" y2="269.00" stroke="#b0b0b0" stroke-width="0.60"/>
<path d="M388.00,299.00 L388.00,286.76 L388.38,290.16 L388.95,292.54 L390.21,294.58 L392.41,295.94 L395.57,296.79 L400.61,297.47 L410.07,297.98 L425.83,298.49 L449.79,299.00 L476.27,299.51 L498.34,300.02 L506.53,300.70 L508.74,302.40 L509.37,307.84 L509.69,307.84 L509.69,299.00 Z" fill="#d4d4d4" stroke="#b8b8b8" stroke-width="0.40"/>
<line x1="449.96" y1="274.00" x2="449.96" y2="311.60" stroke="#cfcfcf" stroke-width="0.50" stroke-dasharray="1,1"/>
<text x="445.96" y="293.40" font-size="3.20" text-anchor="middle" fill="#333" stroke="#333" stroke-width="0.091">Zero cross at 9827</text>
<text x="385.80" y="278.00" font-size="4.20" text-anchor="middle" fill="#1a1a1a" stroke="#1a1a1a" stroke-width="0.120" transform="rotate(-90 385.80 278.00)">6</text>
<text x="385.80" y="284.70" font-size="4.20" text-anchor="middle" fill="#1a1a1a" stroke="#1a1a1a" stroke-width="0.120" transform="rotate(-90 385.80 284.70)">4</text>
<text x="385.80" y="291.50" font-size="4.20" text-anchor="middle" fill="#1a1a1a" stroke="#1a1a1a" stroke-width="0.120" transform="rotate(-90 385.80 291.50)">2</text>
<text x="385.80" y="299.00" font-size="4.20" text-anchor="middle" fill="#1a1a1a" stroke="#1a1a1a" stroke-width="0.120" transform="rotate(-90 385.80 299.00)">0</text>
<text x="385.80" y="305.70" font-size="4.20" text-anchor="middle" fill="#1a1a1a" stroke="#1a1a1a" stroke-width="0.120" transform="rotate(-90 385.80 305.70)">-2</text>
<text x="390.10" y="284.70" font-size="6.40" textLength="11.10" lengthAdjust="spacingAndGlyphs" fill="#1a1a1a" stroke="#1a1a1a" stroke-width="0.183">EAE</text>
<text x="499.90" y="284.90" font-size="6.40" textLength="14.50" lengthAdjust="spacingAndGlyphs" fill="#1a1a1a" stroke="#1a1a1a" stroke-width="0.183">CTRL</text>
<text x="388.00" y="316.80" font-size="4.00" text-anchor="middle" fill="#1a1a1a" stroke="#1a1a1a" stroke-width="0.114">0</text>
<text x="400.61" y="316.80" font-size="4.00" text-anchor="middle" fill="#1a1a1a" stroke="#1a1a1a" stroke-width="0.114">2000</text>
<text x="413.22" y="316.80" font-size="4.00" text-anchor="middle" fill="#1a1a1a" stroke="#1a1a1a" stroke-width="0.114">4000</text>
<text x="425.83" y="316.80" font-size="4.00" text-anchor="middle" fill="#1a1a1a" stroke="#1a1a1a" stroke-width="0.114">6000</text>
<text x="438.44" y="316.80" font-size="4.00" text-anchor="middle" fill="#1a1a1a" stroke="#1a1a1a" stroke-width="0.114">8000</text>
<text x="451.05" y="316.80" font-size="4.00" text-anchor="middle" fill="#1a1a1a" stroke="#1a1a1a" stroke-width="0.114">10000</text>
<text x="463.66" y="316.80" font-size="4.00" text-anchor="middle" fill="#1a1a1a" stroke="#1a1a1a" stroke-width="0.114">12000</text>
<text x="476.27" y="316.80" font-size="4.00" text-anchor="middle" fill="#1a1a1a" stroke="#1a1a1a" stroke-width="0.114">14000</text>
<text x="488.88" y="316.80" font-size="4.00" text-anchor="middle" fill="#1a1a1a" stroke="#1a1a1a" stroke-width="0.114">16000</text>
<text x="501.49" y="316.80" font-size="4.00" text-anchor="middle" fill="#1a1a1a" stroke="#1a1a1a" stroke-width="0.114">18000</text>
<text x="514.10" y="316.80" font-size="4.00" text-anchor="middle" fill="#1a1a1a" stroke="#1a1a1a" stroke-width="0.114">20000</text>
<text x="427.40" y="324.20" font-size="5.60" textLength="46.30" lengthAdjust="spacingAndGlyphs" fill="#1a1a1a" stroke="#1a1a1a" stroke-width="0.160">Rank in Ordered Dataset</text>
<text x="375.60" y="247.50" font-size="5.90" textLength="51.80" lengthAdjust="spacingAndGlyphs" fill="#1a1a1a" stroke="#1a1a1a" stroke-width="0.169" transform="rotate(-90 375.60 247.50)">Enrichment score (ES)</text>
<text x="380.40" y="322.00" font-size="5.40" textLength="58.30" lengthAdjust="spacingAndGlyphs" fill="#1a1a1a" stroke="#1a1a1a" stroke-width="0.154" transform="rotate(-90 380.40 322.00)">Ranked list metric (PreRanked)</text>
<rect x="392.20" y="327.50" width="121.40" height="7.20" fill="#fff" stroke="#9a9a9a" stroke-width="0.60"/>
<line x1="394.00" y1="331.30" x2="399.00" y2="331.30" stroke="#5ec43a" stroke-width="1.20"/>
<text x="400.30" y="332.90" font-size="5.00" textLength="33.80" lengthAdjust="spacingAndGlyphs" fill="#1a1a1a" stroke="#1a1a1a" stroke-width="0.143">Enrichment profile</text>
<line x1="440.20" y1="331.30" x2="445.00" y2="331.30" stroke="#111" stroke-width="1.20"/>
<text x="445.90" y="332.90" font-size="5.00" textLength="7.00" lengthAdjust="spacingAndGlyphs" fill="#1a1a1a" stroke="#1a1a1a" stroke-width="0.143">Hits</text>
<line x1="459.20" y1="331.30" x2="468.70" y2="331.30" stroke="#bbb" stroke-width="0.70"/>
<text x="471.10" y="332.90" font-size="5.00" textLength="40.60" lengthAdjust="spacingAndGlyphs" fill="#1a1a1a" stroke="#1a1a1a" stroke-width="0.143">Ranking metric scores</text>
<text x="545.70" y="184.80" font-size="9.90" textLength="138.00" lengthAdjust="spacingAndGlyphs" fill="#1a1a1a" stroke="#1a1a1a" stroke-width="0.200">GOBP Lymphocyte Mediated Immunity</text>
<path d="M565.61,193 V248 M565.61,274 V311.6 M578.22,193 V248 M578.22,274 V311.6 M590.83,193 V248 M590.83,274 V311.6 M603.44,193 V248 M603.44,274 V311.6 M616.05,193 V248 M616.05,274 V311.6 M628.66,193 V248 M628.66,274 V311.6 M641.27,193 V248 M641.27,274 V311.6 M653.88,193 V248 M653.88,274 V311.6 M666.49,193 V248 M666.49,274 V311.6 M553.00,246.30 H681.20 M553.00,240.02 H681.20 M553.00,233.74 H681.20 M553.00,227.46 H681.20 M553.00,221.18 H681.20 M553.00,214.90 H681.20 M553.00,208.62 H681.20 M553.00,202.34 H681.20 M553.00,196.06 H681.20 M553.00,278.60 H681.20 M553.00,285.40 H681.20 M553.00,292.20 H681.20 M553.00,305.80 H681.20" fill="none" stroke="#efefef" stroke-width="0.50"/>
<rect x="553.00" y="193.00" width="128.20" height="55.00" fill="none" stroke="#a0a0a0" stroke-width="0.80"/>
<rect x="553.00" y="248.00" width="128.20" height="25.60" fill="none" stroke="#b0b0b0" stroke-width="0.60"/>
<rect x="553.00" y="273.60" width="128.20" height="38.00" fill="none" stroke="#9a9a9a" stroke-width="0.90"/>
<text x="551.40" y="248.00" font-size="5.00" text-anchor="end" fill="#1a1a1a" stroke="#1a1a1a" stroke-width="0.143">0.0</text>
<text x="551.40" y="241.72" font-size="5.00" text-anchor="end" fill="#1a1a1a" stroke="#1a1a1a" stroke-width="0.143">0.1</text>
<text x="551.40" y="235.44" font-size="5.00" text-anchor="end" fill="#1a1a1a" stroke="#1a1a1a" stroke-width="0.143">0.2</text>
<text x="551.40" y="229.16" font-size="5.00" text-anchor="end" fill="#1a1a1a" stroke="#1a1a1a" stroke-width="0.143">0.3</text>
<text x="551.40" y="222.88" font-size="5.00" text-anchor="end" fill="#1a1a1a" stroke="#1a1a1a" stroke-width="0.143">0.4</text>
<text x="551.40" y="216.60" font-size="5.00" text-anchor="end" fill="#1a1a1a" stroke="#1a1a1a" stroke-width="0.143">0.5</text>
<text x="551.40" y="210.32" font-size="5.00" text-anchor="end" fill="#1a1a1a" stroke="#1a1a1a" stroke-width="0.143">0.6</text>
<text x="551.40" y="204.04" font-size="5.00" text-anchor="end" fill="#1a1a1a" stroke="#1a1a1a" stroke-width="0.143">0.7</text>
<text x="551.40" y="197.76" font-size="5.00" text-anchor="end" fill="#1a1a1a" stroke="#1a1a1a" stroke-width="0.143">0.8</text>
<polyline points="553.00,246.30 553.60,231.86 554.20,208.62 555.40,203.60 557.10,199.20 560.00,196.06 563.50,194.93 566.50,195.31 571.70,197.82 583.40,203.09 605.00,213.02 628.66,224.95 653.88,236.88 674.37,246.30" fill="none" stroke="#62c63c" stroke-width="1.3" stroke-linejoin="round"/>
<text x="632.00" y="200.40" font-size="6.50" textLength="32.30" lengthAdjust="spacingAndGlyphs" fill="#1a1a1a" stroke="#1a1a1a" stroke-width="0.186">NES = 2.11</text>
<text x="632.00" y="207.95" font-size="6.50" textLength="31.40" lengthAdjust="spacingAndGlyphs" fill="#1a1a1a" stroke="#1a1a1a" stroke-width="0.186">p-value = 0</text>
<text x="632.00" y="215.50" font-size="6.50" textLength="46.20" lengthAdjust="spacingAndGlyphs" fill="#1a1a1a" stroke="#1a1a1a" stroke-width="0.186">FDR q-value = 0</text>
<g><rect x="552.80" y="251" width="5.30" height="17.9" fill="#000" fill-opacity="1.00"/><rect x="558.10" y="251" width="3.80" height="17.9" fill="#000" fill-opacity="0.80"/><rect x="562.80" y="251" width="3.80" height="17.9" fill="#000" fill-opacity="0.65"/><rect x="569.00" y="251" width="3.80" height="17.9" fill="#000" fill-opacity="0.40"/><rect x="572.80" y="251" width="4.70" height="17.9" fill="#000" fill-opacity="0.55"/><rect x="577.50" y="251" width="4.80" height="17.9" fill="#000" fill-opacity="0.50"/><rect x="582.70" y="251" width="1.00" height="17.9" fill="#000" fill-opacity="0.65"/><rect x="584.20" y="251" width="5.20" height="17.9" fill="#000" fill-opacity="0.20"/><rect x="589.80" y="251" width="3.80" height="17.9" fill="#000" fill-opacity="0.70"/><rect x="597.00" y="251" width="2.30" height="17.9" fill="#000" fill-opacity="0.40"/><rect x="599.80" y="251" width="1.00" height="17.9" fill="#000" fill-opacity="0.60"/><rect x="604.10" y="251" width="0.90" height="17.9" fill="#000" fill-opacity="0.45"/><rect x="606.00" y="251" width="3.80" height="17.9" fill="#000" fill-opacity="0.45"/><rect x="611.70" y="251" width="1.40" height="17.9" fill="#000" fill-opacity="0.55"/><rect x="616.80" y="251" width="1.90" height="17.9" fill="#000" fill-opacity="0.55"/><rect x="622.50" y="251" width="2.80" height="17.9" fill="#000" fill-opacity="0.50"/><rect x="625.30" y="251" width="3.80" height="17.9" fill="#000" fill-opacity="0.40"/><rect x="631.00" y="251" width="4.30" height="17.9" fill="#000" fill-opacity="0.65"/><rect x="635.80" y="251" width="4.70" height="17.9" fill="#000" fill-opacity="0.45"/><rect x="641.90" y="251" width="3.40" height="17.9" fill="#000" fill-opacity="0.65"/><rect x="646.20" y="251" width="3.80" height="17.9" fill="#000" fill-opacity="0.45"/><rect x="650.00" y="251" width="1.90" height="17.9" fill="#000" fill-opacity="0.80"/><rect x="651.90" y="251" width="3.80" height="17.9" fill="#000" fill-opacity="0.45"/><rect x="657.60" y="251" width="2.40" height="17.9" fill="#000" fill-opacity="0.60"/><rect x="663.80" y="251" width="1.40" height="17.9" fill="#000" fill-opacity="0.35"/><rect x="666.10" y="251" width="2.90" height="17.9" fill="#000" fill-opacity="0.50"/><rect x="670.00" y="251" width="2.80" height="17.9" fill="#000" fill-opacity="0.45"/><rect x="673.70" y="251" width="1.40" height="17.9" fill="#000" fill-opacity="0.55"/></g>
<rect x="553.00" y="269.00" width="16.12" height="4.60" fill="#e5474f"/>
<rect x="568.82" y="269.00" width="8.82" height="4.60" fill="#e56478"/>
<rect x="577.34" y="269.00" width="13.69" height="4.60" fill="#ea7f88"/>
<rect x="590.72" y="269.00" width="24.64" height="4.60" fill="#e8b6de"/>
<rect x="615.06" y="269.00" width="14.90" height="4.60" fill="#d4d2ee"/>
<rect x="629.66" y="269.00" width="13.69" height="4.60" fill="#c4bce4"/>
<rect x="643.05" y="269.00" width="10.03" height="4.60" fill="#7373c4"/>
<rect x="652.78" y="269.00" width="19.28" height="4.60" fill="#5050aa"/>
<rect x="671.77" y="269.00" width="3.22" height="4.60" fill="#3c3ca0"/>
<text x="553.80" y="277.30" font-size="3.20" textLength="42.00" lengthAdjust="spacingAndGlyphs" fill="#d03030" stroke="#d03030" stroke-width="0.091">na_pos (positively correlated)</text>
<text x="616.50" y="310.20" font-size="3.20" textLength="44.00" lengthAdjust="spacingAndGlyphs" fill="#3030c0" stroke="#3030c0" stroke-width="0.091">na_neg (negatively correlated)</text>
<line x1="674.69" y1="269.00" x2="681.20" y2="269.00" stroke="#b0b0b0" stroke-width="0.60"/>
<path d="M553.00,299.00 L553.00,286.76 L553.38,290.16 L553.95,292.54 L555.21,294.58 L557.41,295.94 L560.57,296.79 L565.61,297.47 L575.07,297.98 L590.83,298.49 L614.79,299.00 L641.27,299.51 L663.34,300.02 L671.53,300.70 L673.74,302.40 L674.37,307.84 L674.69,307.84 L674.69,299.00 Z" fill="#d4d4d4" stroke="#b8b8b8" stroke-width="0.40"/>
<line x1="614.96" y1="274.00" x2="614.96" y2="311.60" stroke="#cfcfcf" stroke-width="0.50" stroke-dasharray="1,1"/>
<text x="610.96" y="293.40" font-size="3.20" text-anchor="middle" fill="#333" stroke="#333" stroke-width="0.091">Zero cross at 9827</text>
<text x="550.80" y="278.00" font-size="4.20" text-anchor="middle" fill="#1a1a1a" stroke="#1a1a1a" stroke-width="0.120" transform="rotate(-90 550.80 278.00)">6</text>
<text x="550.80" y="284.70" font-size="4.20" text-anchor="middle" fill="#1a1a1a" stroke="#1a1a1a" stroke-width="0.120" transform="rotate(-90 550.80 284.70)">4</text>
<text x="550.80" y="291.50" font-size="4.20" text-anchor="middle" fill="#1a1a1a" stroke="#1a1a1a" stroke-width="0.120" transform="rotate(-90 550.80 291.50)">2</text>
<text x="550.80" y="299.00" font-size="4.20" text-anchor="middle" fill="#1a1a1a" stroke="#1a1a1a" stroke-width="0.120" transform="rotate(-90 550.80 299.00)">0</text>
<text x="550.80" y="305.70" font-size="4.20" text-anchor="middle" fill="#1a1a1a" stroke="#1a1a1a" stroke-width="0.120" transform="rotate(-90 550.80 305.70)">-2</text>
<text x="555.10" y="284.70" font-size="6.40" textLength="11.10" lengthAdjust="spacingAndGlyphs" fill="#1a1a1a" stroke="#1a1a1a" stroke-width="0.183">EAE</text>
<text x="664.90" y="284.90" font-size="6.40" textLength="14.50" lengthAdjust="spacingAndGlyphs" fill="#1a1a1a" stroke="#1a1a1a" stroke-width="0.183">CTRL</text>
<text x="553.00" y="316.80" font-size="4.00" text-anchor="middle" fill="#1a1a1a" stroke="#1a1a1a" stroke-width="0.114">0</text>
<text x="565.61" y="316.80" font-size="4.00" text-anchor="middle" fill="#1a1a1a" stroke="#1a1a1a" stroke-width="0.114">2000</text>
<text x="578.22" y="316.80" font-size="4.00" text-anchor="middle" fill="#1a1a1a" stroke="#1a1a1a" stroke-width="0.114">4000</text>
<text x="590.83" y="316.80" font-size="4.00" text-anchor="middle" fill="#1a1a1a" stroke="#1a1a1a" stroke-width="0.114">6000</text>
<text x="603.44" y="316.80" font-size="4.00" text-anchor="middle" fill="#1a1a1a" stroke="#1a1a1a" stroke-width="0.114">8000</text>
<text x="616.05" y="316.80" font-size="4.00" text-anchor="middle" fill="#1a1a1a" stroke="#1a1a1a" stroke-width="0.114">10000</text>
<text x="628.66" y="316.80" font-size="4.00" text-anchor="middle" fill="#1a1a1a" stroke="#1a1a1a" stroke-width="0.114">12000</text>
<text x="641.27" y="316.80" font-size="4.00" text-anchor="middle" fill="#1a1a1a" stroke="#1a1a1a" stroke-width="0.114">14000</text>
<text x="653.88" y="316.80" font-size="4.00" text-anchor="middle" fill="#1a1a1a" stroke="#1a1a1a" stroke-width="0.114">16000</text>
<text x="666.49" y="316.80" font-size="4.00" text-anchor="middle" fill="#1a1a1a" stroke="#1a1a1a" stroke-width="0.114">18000</text>
<text x="679.10" y="316.80" font-size="4.00" text-anchor="middle" fill="#1a1a1a" stroke="#1a1a1a" stroke-width="0.114">20000</text>
<text x="592.40" y="324.20" font-size="5.60" textLength="46.30" lengthAdjust="spacingAndGlyphs" fill="#1a1a1a" stroke="#1a1a1a" stroke-width="0.160">Rank in Ordered Dataset</text>
<text x="540.60" y="247.50" font-size="5.90" textLength="51.80" lengthAdjust="spacingAndGlyphs" fill="#1a1a1a" stroke="#1a1a1a" stroke-width="0.169" transform="rotate(-90 540.60 247.50)">Enrichment score (ES)</text>
<text x="545.40" y="322.00" font-size="5.40" textLength="58.30" lengthAdjust="spacingAndGlyphs" fill="#1a1a1a" stroke="#1a1a1a" stroke-width="0.154" transform="rotate(-90 545.40 322.00)">Ranked list metric (PreRanked)</text>
<rect x="557.20" y="327.50" width="121.40" height="7.20" fill="#fff" stroke="#9a9a9a" stroke-width="0.60"/>
<line x1="559.00" y1="331.30" x2="564.00" y2="331.30" stroke="#5ec43a" stroke-width="1.20"/>
<text x="565.30" y="332.90" font-size="5.00" textLength="33.80" lengthAdjust="spacingAndGlyphs" fill="#1a1a1a" stroke="#1a1a1a" stroke-width="0.143">Enrichment profile</text>
<line x1="605.20" y1="331.30" x2="610.00" y2="331.30" stroke="#111" stroke-width="1.20"/>
<text x="610.90" y="332.90" font-size="5.00" textLength="7.00" lengthAdjust="spacingAndGlyphs" fill="#1a1a1a" stroke="#1a1a1a" stroke-width="0.143">Hits</text>
<line x1="624.20" y1="331.30" x2="633.70" y2="331.30" stroke="#bbb" stroke-width="0.70"/>
<text x="636.10" y="332.90" font-size="5.00" textLength="40.60" lengthAdjust="spacingAndGlyphs" fill="#1a1a1a" stroke="#1a1a1a" stroke-width="0.143">Ranking metric scores</text>
<text x="4.93" y="362.80" font-size="12.80" textLength="7.95" lengthAdjust="spacingAndGlyphs" font-weight="bold" fill="#111">F</text>
<text x="259.89" y="362.50" font-size="12.80" textLength="9.68" lengthAdjust="spacingAndGlyphs" font-weight="bold" fill="#111">G</text>
<text x="543.12" y="364.40" font-size="12.80" textLength="9.46" lengthAdjust="spacingAndGlyphs" font-weight="bold" fill="#111">H</text>
<text x="5.26" y="532.50" font-size="12.80" textLength="3.47" lengthAdjust="spacingAndGlyphs" font-weight="bold" fill="#111">I</text>
<text x="262.10" y="533.70" font-size="12.80" textLength="7.18" lengthAdjust="spacingAndGlyphs" font-weight="bold" fill="#111">J</text>
<text x="543.05" y="532.70" font-size="12.80" textLength="9.17" lengthAdjust="spacingAndGlyphs" font-weight="bold" fill="#111">K</text>
<rect x="150.00" y="375.50" width="8.30" height="8.70" fill="#d42620"/>
<rect x="150.00" y="386.77" width="8.80" height="8.70" fill="#d42620"/>
<rect x="150.00" y="398.04" width="11.10" height="8.70" fill="#d42620"/>
<rect x="150.00" y="409.31" width="11.70" height="8.70" fill="#d42620"/>
<rect x="150.00" y="420.58" width="14.00" height="8.70" fill="#d42620"/>
<rect x="150.00" y="431.85" width="14.10" height="8.70" fill="#d42620"/>
<rect x="150.00" y="443.12" width="15.50" height="8.70" fill="#d42620"/>
<rect x="150.00" y="454.39" width="26.30" height="8.70" fill="#d42620"/>
<rect x="150.00" y="465.66" width="27.60" height="8.70" fill="#d42620"/>
<rect x="150.00" y="476.93" width="55.90" height="8.70" fill="#d42620"/>
<line x1="149.50" y1="372.20" x2="149.50" y2="489.00" stroke="#262626" stroke-width="1.10"/>
<line x1="149.00" y1="488.40" x2="222.90" y2="488.40" stroke="#262626" stroke-width="1.10"/>
<line x1="146.20" y1="379.85" x2="149.50" y2="379.85" stroke="#262626" stroke-width="0.90"/>
<text x="98.98" y="382.25" font-size="7.30" textLength="46.17" lengthAdjust="spacingAndGlyphs" fill="#1a1a1a" stroke="#1a1a1a" stroke-width="0.250">IL-10 Signaling</text>
<line x1="146.20" y1="391.12" x2="149.50" y2="391.12" stroke="#262626" stroke-width="0.90"/>
<text x="71.66" y="393.52" font-size="7.30" textLength="73.49" lengthAdjust="spacingAndGlyphs" fill="#1a1a1a" stroke="#1a1a1a" stroke-width="0.250">IL-4 and IL-13 Signaling</text>
<line x1="146.20" y1="402.39" x2="149.50" y2="402.39" stroke="#262626" stroke-width="0.90"/>
<text x="67.44" y="404.79" font-size="7.30" textLength="77.71" lengthAdjust="spacingAndGlyphs" fill="#1a1a1a" stroke="#1a1a1a" stroke-width="0.250">IFN-Alpha/Beta Signaling</text>
<line x1="146.20" y1="413.66" x2="149.50" y2="413.66" stroke="#262626" stroke-width="0.90"/>
<text x="68.59" y="416.06" font-size="7.30" textLength="76.56" lengthAdjust="spacingAndGlyphs" fill="#1a1a1a" stroke="#1a1a1a" stroke-width="0.250">Neutrophil Degranulation</text>
<line x1="146.20" y1="424.93" x2="149.50" y2="424.93" stroke="#262626" stroke-width="0.90"/>
<text x="66.31" y="427.33" font-size="7.30" textLength="78.85" lengthAdjust="spacingAndGlyphs" fill="#1a1a1a" stroke="#1a1a1a" stroke-width="0.250">Adaptive Immune System</text>
<line x1="146.20" y1="436.20" x2="149.50" y2="436.20" stroke="#262626" stroke-width="0.90"/>
<text x="69.93" y="438.60" font-size="7.30" textLength="75.02" lengthAdjust="spacingAndGlyphs" fill="#1a1a1a" stroke="#1a1a1a" stroke-width="0.250">Signaling by Interleukins</text>
<line x1="146.20" y1="447.47" x2="149.50" y2="447.47" stroke="#262626" stroke-width="0.90"/>
<text x="14.16" y="449.87" font-size="7.30" textLength="131.18" lengthAdjust="spacingAndGlyphs" fill="#1a1a1a" stroke="#1a1a1a" stroke-width="0.250">Lymphoid and non-Lymphoid Cells interac.</text>
<line x1="146.20" y1="458.74" x2="149.50" y2="458.74" stroke="#262626" stroke-width="0.90"/>
<text x="28.61" y="461.14" font-size="7.30" textLength="116.55" lengthAdjust="spacingAndGlyphs" fill="#1a1a1a" stroke="#1a1a1a" stroke-width="0.250">Cytokine Signaling in Immune System</text>
<line x1="146.20" y1="470.01" x2="149.50" y2="470.01" stroke="#262626" stroke-width="0.90"/>
<text x="74.00" y="472.41" font-size="7.30" textLength="71.16" lengthAdjust="spacingAndGlyphs" fill="#1a1a1a" stroke="#1a1a1a" stroke-width="0.250">Innate Immune System</text>
<line x1="146.20" y1="481.28" x2="149.50" y2="481.28" stroke="#262626" stroke-width="0.90"/>
<text x="95.16" y="483.68" font-size="7.30" textLength="49.99" lengthAdjust="spacingAndGlyphs" fill="#1a1a1a" stroke="#1a1a1a" stroke-width="0.250">Immune System</text>
<line x1="149.50" y1="488.40" x2="149.50" y2="491.70" stroke="#262626" stroke-width="0.90"/>
<text x="149.50" y="497.70" font-size="6.60" text-anchor="middle" fill="#1a1a1a" stroke="#1a1a1a" stroke-width="0.236">0</text>
<line x1="167.82" y1="488.40" x2="167.82" y2="491.70" stroke="#262626" stroke-width="0.90"/>
<text x="167.82" y="497.70" font-size="6.60" text-anchor="middle" fill="#1a1a1a" stroke="#1a1a1a" stroke-width="0.236">20</text>
<line x1="186.14" y1="488.40" x2="186.14" y2="491.70" stroke="#262626" stroke-width="0.90"/>
<text x="186.14" y="497.70" font-size="6.60" text-anchor="middle" fill="#1a1a1a" stroke="#1a1a1a" stroke-width="0.236">40</text>
<line x1="204.46" y1="488.40" x2="204.46" y2="491.70" stroke="#262626" stroke-width="0.90"/>
<text x="204.46" y="497.70" font-size="6.60" text-anchor="middle" fill="#1a1a1a" stroke="#1a1a1a" stroke-width="0.236">60</text>
<line x1="222.78" y1="488.40" x2="222.78" y2="491.70" stroke="#262626" stroke-width="0.90"/>
<text x="222.78" y="497.70" font-size="6.60" text-anchor="middle" fill="#1a1a1a" stroke="#1a1a1a" stroke-width="0.236">80</text>
<text x="84.34" y="363.00" font-size="9.00" textLength="93.69" lengthAdjust="spacingAndGlyphs" fill="#1a1a1a" stroke="#1a1a1a" stroke-width="0.250">Reactome Pathways 2024</text>
<text x="164.93" y="506.70" font-size="6.40" textLength="10.27" lengthAdjust="spacingAndGlyphs" fill="#1a1a1a" stroke="#1a1a1a" stroke-width="0.229">-log</text>
<text x="174.33" y="510.60" font-size="5.40" textLength="5.35" lengthAdjust="spacingAndGlyphs" fill="#1a1a1a" stroke="#1a1a1a" stroke-width="0.193">10</text>
<text x="181.26" y="506.70" font-size="6.40" textLength="27.60" lengthAdjust="spacingAndGlyphs" fill="#1a1a1a" stroke="#1a1a1a" stroke-width="0.229">adj p value</text>
<rect x="389.00" y="374.90" width="21.90" height="8.80" fill="#d42620"/>
<rect x="389.00" y="386.24" width="21.90" height="8.80" fill="#d42620"/>
<rect x="389.00" y="397.58" width="24.10" height="8.80" fill="#d42620"/>
<rect x="389.00" y="408.92" width="27.80" height="8.80" fill="#d42620"/>
<rect x="389.00" y="420.26" width="27.80" height="8.80" fill="#d42620"/>
<rect x="389.00" y="431.60" width="27.80" height="8.80" fill="#d42620"/>
<rect x="389.00" y="442.94" width="27.80" height="8.80" fill="#d42620"/>
<rect x="389.00" y="454.28" width="28.80" height="8.80" fill="#d42620"/>
<rect x="389.00" y="465.62" width="30.00" height="8.80" fill="#d42620"/>
<rect x="389.00" y="476.96" width="52.00" height="8.80" fill="#d42620"/>
<line x1="388.50" y1="372.00" x2="388.50" y2="488.90" stroke="#262626" stroke-width="1.10"/>
<line x1="388.00" y1="488.30" x2="461.80" y2="488.30" stroke="#262626" stroke-width="1.10"/>
<line x1="385.20" y1="379.30" x2="388.50" y2="379.30" stroke="#262626" stroke-width="0.90"/>
<text x="292.98" y="381.70" font-size="7.30" textLength="91.17" lengthAdjust="spacingAndGlyphs" fill="#1a1a1a" stroke="#1a1a1a" stroke-width="0.250">Regulation Of IL-6 Production</text>
<line x1="385.20" y1="390.64" x2="388.50" y2="390.64" stroke="#262626" stroke-width="0.90"/>
<text x="287.99" y="393.04" font-size="7.30" textLength="96.16" lengthAdjust="spacingAndGlyphs" fill="#1a1a1a" stroke="#1a1a1a" stroke-width="0.250">Regulation Of IFN II Production</text>
<line x1="385.20" y1="401.98" x2="388.50" y2="401.98" stroke="#262626" stroke-width="0.90"/>
<text x="334.15" y="404.38" font-size="7.30" textLength="50.00" lengthAdjust="spacingAndGlyphs" fill="#1a1a1a" stroke="#1a1a1a" stroke-width="0.250">T Cell Activation</text>
<line x1="385.20" y1="413.32" x2="388.50" y2="413.32" stroke="#262626" stroke-width="0.90"/>
<text x="267.15" y="415.72" font-size="7.30" textLength="116.56" lengthAdjust="spacingAndGlyphs" fill="#1a1a1a" stroke="#1a1a1a" stroke-width="0.250">Cytokine-Mediated Signaling Pathway</text>
<line x1="385.20" y1="424.66" x2="388.50" y2="424.66" stroke="#262626" stroke-width="0.90"/>
<text x="324.34" y="427.06" font-size="7.30" textLength="60.00" lengthAdjust="spacingAndGlyphs" fill="#1a1a1a" stroke="#1a1a1a" stroke-width="0.250">Response To IFN II</text>
<line x1="385.20" y1="436.00" x2="388.50" y2="436.00" stroke="#262626" stroke-width="0.90"/>
<text x="310.93" y="438.40" font-size="7.30" textLength="73.08" lengthAdjust="spacingAndGlyphs" fill="#1a1a1a" stroke="#1a1a1a" stroke-width="0.250">Inflammatory Response</text>
<line x1="385.20" y1="447.34" x2="388.50" y2="447.34" stroke="#262626" stroke-width="0.90"/>
<text x="297.40" y="449.74" font-size="7.30" textLength="86.55" lengthAdjust="spacingAndGlyphs" fill="#1a1a1a" stroke="#1a1a1a" stroke-width="0.250">Defense Response To Virus</text>
<line x1="385.20" y1="458.68" x2="388.50" y2="458.68" stroke="#262626" stroke-width="0.90"/>
<text x="284.12" y="461.08" font-size="7.30" textLength="99.63" lengthAdjust="spacingAndGlyphs" fill="#1a1a1a" stroke="#1a1a1a" stroke-width="0.250">Defense Response To Symbiont</text>
<line x1="385.20" y1="470.02" x2="388.50" y2="470.02" stroke="#262626" stroke-width="0.90"/>
<text x="282.22" y="472.42" font-size="7.30" textLength="101.93" lengthAdjust="spacingAndGlyphs" fill="#1a1a1a" stroke="#1a1a1a" stroke-width="0.250">Defense Response To Bacterium</text>
<line x1="385.20" y1="481.36" x2="388.50" y2="481.36" stroke="#262626" stroke-width="0.90"/>
<text x="270.29" y="483.76" font-size="7.30" textLength="113.86" lengthAdjust="spacingAndGlyphs" fill="#1a1a1a" stroke="#1a1a1a" stroke-width="0.250">Positive Reg. Of Cytokine Production</text>
<line x1="388.50" y1="488.30" x2="388.50" y2="491.60" stroke="#262626" stroke-width="0.90"/>
<text x="388.50" y="497.60" font-size="6.60" text-anchor="middle" fill="#1a1a1a" stroke="#1a1a1a" stroke-width="0.236">0</text>
<line x1="406.70" y1="488.30" x2="406.70" y2="491.60" stroke="#262626" stroke-width="0.90"/>
<text x="406.70" y="497.60" font-size="6.60" text-anchor="middle" fill="#1a1a1a" stroke="#1a1a1a" stroke-width="0.236">10</text>
<line x1="424.90" y1="488.30" x2="424.90" y2="491.60" stroke="#262626" stroke-width="0.90"/>
<text x="424.90" y="497.60" font-size="6.60" text-anchor="middle" fill="#1a1a1a" stroke="#1a1a1a" stroke-width="0.236">20</text>
<line x1="443.10" y1="488.30" x2="443.10" y2="491.60" stroke="#262626" stroke-width="0.90"/>
<text x="443.10" y="497.60" font-size="6.60" text-anchor="middle" fill="#1a1a1a" stroke="#1a1a1a" stroke-width="0.236">30</text>
<line x1="461.30" y1="488.30" x2="461.30" y2="491.60" stroke="#262626" stroke-width="0.90"/>
<text x="461.30" y="497.60" font-size="6.60" text-anchor="middle" fill="#1a1a1a" stroke="#1a1a1a" stroke-width="0.236">40</text>
<text x="312.20" y="363.10" font-size="9.00" textLength="100.26" lengthAdjust="spacingAndGlyphs" fill="#1a1a1a" stroke="#1a1a1a" stroke-width="0.250">GO Biological Process 2023</text>
<text x="402.53" y="506.60" font-size="6.40" textLength="10.27" lengthAdjust="spacingAndGlyphs" fill="#1a1a1a" stroke="#1a1a1a" stroke-width="0.229">-log</text>
<text x="411.93" y="510.50" font-size="5.40" textLength="5.35" lengthAdjust="spacingAndGlyphs" fill="#1a1a1a" stroke="#1a1a1a" stroke-width="0.193">10</text>
<text x="418.86" y="506.60" font-size="6.40" textLength="27.60" lengthAdjust="spacingAndGlyphs" fill="#1a1a1a" stroke="#1a1a1a" stroke-width="0.229">adj p value</text>
<rect x="610.90" y="376.60" width="36.80" height="8.40" fill="#d42620"/>
<rect x="610.90" y="387.79" width="37.40" height="8.40" fill="#d42620"/>
<rect x="610.90" y="398.98" width="37.90" height="8.40" fill="#d42620"/>
<rect x="610.90" y="410.17" width="37.90" height="8.40" fill="#d42620"/>
<rect x="610.90" y="421.36" width="39.20" height="8.40" fill="#d42620"/>
<rect x="610.90" y="432.55" width="42.00" height="8.40" fill="#d42620"/>
<rect x="610.90" y="443.74" width="43.20" height="8.40" fill="#d42620"/>
<rect x="610.90" y="454.93" width="56.50" height="8.40" fill="#d42620"/>
<rect x="610.90" y="466.12" width="62.60" height="8.40" fill="#d42620"/>
<rect x="610.90" y="477.31" width="64.10" height="8.40" fill="#d42620"/>
<line x1="610.40" y1="373.30" x2="610.40" y2="488.90" stroke="#262626" stroke-width="1.10"/>
<line x1="609.90" y1="488.30" x2="681.60" y2="488.30" stroke="#262626" stroke-width="1.10"/>
<line x1="607.10" y1="380.80" x2="610.40" y2="380.80" stroke="#262626" stroke-width="0.90"/>
<text x="582.60" y="383.20" font-size="7.30" textLength="23.45" lengthAdjust="spacingAndGlyphs" fill="#1a1a1a" stroke="#1a1a1a" stroke-width="0.250">Arthritis</text>
<line x1="607.10" y1="391.99" x2="610.40" y2="391.99" stroke="#262626" stroke-width="0.90"/>
<text x="519.52" y="394.39" font-size="7.30" textLength="86.53" lengthAdjust="spacingAndGlyphs" fill="#1a1a1a" stroke="#1a1a1a" stroke-width="0.250">Experimental Liver Cirrhosis</text>
<line x1="607.10" y1="403.18" x2="610.40" y2="403.18" stroke="#262626" stroke-width="0.90"/>
<text x="577.98" y="405.58" font-size="7.30" textLength="28.07" lengthAdjust="spacingAndGlyphs" fill="#1a1a1a" stroke="#1a1a1a" stroke-width="0.250">Psoriasis</text>
<line x1="607.10" y1="414.37" x2="610.40" y2="414.37" stroke="#262626" stroke-width="0.90"/>
<text x="495.26" y="416.77" font-size="7.30" textLength="110.79" lengthAdjust="spacingAndGlyphs" fill="#1a1a1a" stroke="#1a1a1a" stroke-width="0.250">Insulin-Dependent Diabetes Mellitus</text>
<line x1="607.10" y1="425.56" x2="610.40" y2="425.56" stroke="#262626" stroke-width="0.90"/>
<text x="582.34" y="427.96" font-size="7.30" textLength="23.46" lengthAdjust="spacingAndGlyphs" fill="#1a1a1a" stroke="#1a1a1a" stroke-width="0.250">Asthma</text>
<line x1="607.10" y1="436.75" x2="610.40" y2="436.75" stroke="#262626" stroke-width="0.90"/>
<text x="580.09" y="439.15" font-size="7.30" textLength="26.16" lengthAdjust="spacingAndGlyphs" fill="#1a1a1a" stroke="#1a1a1a" stroke-width="0.250">Infection</text>
<line x1="607.10" y1="447.94" x2="610.40" y2="447.94" stroke="#262626" stroke-width="0.90"/>
<text x="552.21" y="450.34" font-size="7.30" textLength="53.84" lengthAdjust="spacingAndGlyphs" fill="#1a1a1a" stroke="#1a1a1a" stroke-width="0.250">Multiple Sclerosis</text>
<line x1="607.10" y1="459.13" x2="610.40" y2="459.13" stroke="#262626" stroke-width="0.90"/>
<text x="543.36" y="461.53" font-size="7.30" textLength="62.69" lengthAdjust="spacingAndGlyphs" fill="#1a1a1a" stroke="#1a1a1a" stroke-width="0.250">Rheumatoid Arthritis</text>
<line x1="607.10" y1="470.32" x2="610.40" y2="470.32" stroke="#262626" stroke-width="0.90"/>
<text x="509.12" y="472.72" font-size="7.30" textLength="96.93" lengthAdjust="spacingAndGlyphs" fill="#1a1a1a" stroke="#1a1a1a" stroke-width="0.250">Systemic Lupus Erythematosus</text>
<line x1="607.10" y1="481.51" x2="610.40" y2="481.51" stroke="#262626" stroke-width="0.90"/>
<text x="536.82" y="483.91" font-size="7.30" textLength="69.23" lengthAdjust="spacingAndGlyphs" fill="#1a1a1a" stroke="#1a1a1a" stroke-width="0.250">Autoimmune Diseases</text>
<line x1="610.40" y1="488.30" x2="610.40" y2="491.60" stroke="#262626" stroke-width="0.90"/>
<text x="610.40" y="497.60" font-size="6.60" text-anchor="middle" fill="#1a1a1a" stroke="#1a1a1a" stroke-width="0.236">0</text>
<line x1="624.54" y1="488.30" x2="624.54" y2="491.60" stroke="#262626" stroke-width="0.90"/>
<text x="624.54" y="497.60" font-size="6.60" text-anchor="middle" fill="#1a1a1a" stroke="#1a1a1a" stroke-width="0.236">10</text>
<line x1="638.68" y1="488.30" x2="638.68" y2="491.60" stroke="#262626" stroke-width="0.90"/>
<text x="638.68" y="497.60" font-size="6.60" text-anchor="middle" fill="#1a1a1a" stroke="#1a1a1a" stroke-width="0.236">20</text>
<line x1="652.82" y1="488.30" x2="652.82" y2="491.60" stroke="#262626" stroke-width="0.90"/>
<text x="652.82" y="497.60" font-size="6.60" text-anchor="middle" fill="#1a1a1a" stroke="#1a1a1a" stroke-width="0.236">30</text>
<line x1="666.96" y1="488.30" x2="666.96" y2="491.60" stroke="#262626" stroke-width="0.90"/>
<text x="666.96" y="497.60" font-size="6.60" text-anchor="middle" fill="#1a1a1a" stroke="#1a1a1a" stroke-width="0.236">40</text>
<line x1="681.10" y1="488.30" x2="681.10" y2="491.60" stroke="#262626" stroke-width="0.90"/>
<text x="681.10" y="497.60" font-size="6.60" text-anchor="middle" fill="#1a1a1a" stroke="#1a1a1a" stroke-width="0.236">50</text>
<text x="604.54" y="363.20" font-size="9.00" textLength="38.44" lengthAdjust="spacingAndGlyphs" fill="#1a1a1a" stroke="#1a1a1a" stroke-width="0.250">DisGeNET</text>
<text x="625.13" y="506.60" font-size="6.40" textLength="10.27" lengthAdjust="spacingAndGlyphs" fill="#1a1a1a" stroke="#1a1a1a" stroke-width="0.229">-log</text>
<text x="634.53" y="510.50" font-size="5.40" textLength="5.35" lengthAdjust="spacingAndGlyphs" fill="#1a1a1a" stroke="#1a1a1a" stroke-width="0.193">10</text>
<text x="641.46" y="506.60" font-size="6.40" textLength="27.60" lengthAdjust="spacingAndGlyphs" fill="#1a1a1a" stroke="#1a1a1a" stroke-width="0.229">adj p value</text>
<rect x="151.00" y="548.60" width="22.30" height="8.40" fill="#42a56a"/>
<rect x="151.00" y="559.92" width="22.30" height="8.40" fill="#42a56a"/>
<rect x="151.00" y="571.24" width="27.00" height="8.40" fill="#42a56a"/>
<rect x="151.00" y="582.56" width="32.80" height="8.40" fill="#42a56a"/>
<rect x="151.00" y="593.88" width="33.90" height="8.40" fill="#42a56a"/>
<rect x="151.00" y="605.20" width="36.00" height="8.40" fill="#42a56a"/>
<rect x="151.00" y="616.52" width="36.80" height="8.40" fill="#42a56a"/>
<rect x="151.00" y="627.84" width="42.00" height="8.40" fill="#42a56a"/>
<rect x="151.00" y="639.16" width="48.50" height="8.40" fill="#42a56a"/>
<rect x="151.00" y="650.48" width="54.10" height="8.40" fill="#42a56a"/>
<line x1="150.50" y1="545.30" x2="150.50" y2="662.30" stroke="#262626" stroke-width="1.10"/>
<line x1="150.00" y1="661.70" x2="222.10" y2="661.70" stroke="#262626" stroke-width="1.10"/>
<line x1="147.20" y1="552.80" x2="150.50" y2="552.80" stroke="#262626" stroke-width="0.90"/>
<text x="54.40" y="555.20" font-size="7.30" textLength="91.55" lengthAdjust="spacingAndGlyphs" fill="#1a1a1a" stroke="#1a1a1a" stroke-width="0.250">Tachykinin Receptors Binding</text>
<line x1="147.20" y1="564.12" x2="150.50" y2="564.12" stroke="#262626" stroke-width="0.90"/>
<text x="43.42" y="566.52" font-size="7.30" textLength="102.33" lengthAdjust="spacingAndGlyphs" fill="#1a1a1a" stroke="#1a1a1a" stroke-width="0.250">Serotonin/Melatonin Biosynthesis</text>
<line x1="147.20" y1="575.44" x2="150.50" y2="575.44" stroke="#262626" stroke-width="0.90"/>
<text x="78.24" y="577.84" font-size="7.30" textLength="67.71" lengthAdjust="spacingAndGlyphs" fill="#1a1a1a" stroke="#1a1a1a" stroke-width="0.250">GPCR Ligand Binding</text>
<line x1="147.20" y1="586.76" x2="150.50" y2="586.76" stroke="#262626" stroke-width="0.90"/>
<text x="86.72" y="589.16" font-size="7.30" textLength="59.23" lengthAdjust="spacingAndGlyphs" fill="#1a1a1a" stroke="#1a1a1a" stroke-width="0.250">Muscle Contraction</text>
<line x1="147.20" y1="598.08" x2="150.50" y2="598.08" stroke="#262626" stroke-width="0.90"/>
<text x="53.44" y="600.48" font-size="7.30" textLength="92.31" lengthAdjust="spacingAndGlyphs" fill="#1a1a1a" stroke="#1a1a1a" stroke-width="0.250">G-Alpha (Q) Signalling Events</text>
<line x1="147.20" y1="609.40" x2="150.50" y2="609.40" stroke="#262626" stroke-width="0.90"/>
<text x="32.47" y="611.80" font-size="7.30" textLength="113.46" lengthAdjust="spacingAndGlyphs" fill="#1a1a1a" stroke="#1a1a1a" stroke-width="0.250">Class A1 (Rhodopsin-like Receptors)</text>
<line x1="147.20" y1="620.72" x2="150.50" y2="620.72" stroke="#262626" stroke-width="0.90"/>
<text x="21.14" y="623.12" font-size="7.30" textLength="124.61" lengthAdjust="spacingAndGlyphs" fill="#1a1a1a" stroke="#1a1a1a" stroke-width="0.250">Metabolism of Amine-Derived Hormones</text>
<line x1="147.20" y1="632.04" x2="150.50" y2="632.04" stroke="#262626" stroke-width="0.90"/>
<text x="60.94" y="634.44" font-size="7.30" textLength="85.00" lengthAdjust="spacingAndGlyphs" fill="#1a1a1a" stroke="#1a1a1a" stroke-width="0.250">Striated Muscle Contraction</text>
<line x1="147.20" y1="643.36" x2="150.50" y2="643.36" stroke="#262626" stroke-width="0.90"/>
<text x="20.16" y="645.76" font-size="7.30" textLength="125.79" lengthAdjust="spacingAndGlyphs" fill="#1a1a1a" stroke="#1a1a1a" stroke-width="0.250">Orexin/Neuropeptides Receptors Binding</text>
<line x1="147.20" y1="654.68" x2="150.50" y2="654.68" stroke="#262626" stroke-width="0.90"/>
<text x="40.72" y="657.08" font-size="7.30" textLength="105.03" lengthAdjust="spacingAndGlyphs" fill="#1a1a1a" stroke="#1a1a1a" stroke-width="0.250">Peptide Ligand-Binding Receptors</text>
<line x1="150.50" y1="661.70" x2="150.50" y2="665.00" stroke="#262626" stroke-width="0.90"/>
<text x="150.50" y="671.90" font-size="6.60" text-anchor="middle" fill="#1a1a1a" stroke="#1a1a1a" stroke-width="0.236">0</text>
<line x1="164.70" y1="661.70" x2="164.70" y2="665.00" stroke="#262626" stroke-width="0.90"/>
<text x="164.70" y="671.90" font-size="6.60" text-anchor="middle" fill="#1a1a1a" stroke="#1a1a1a" stroke-width="0.236">1</text>
<line x1="178.90" y1="661.70" x2="178.90" y2="665.00" stroke="#262626" stroke-width="0.90"/>
<text x="178.90" y="671.90" font-size="6.60" text-anchor="middle" fill="#1a1a1a" stroke="#1a1a1a" stroke-width="0.236">2</text>
<line x1="193.10" y1="661.70" x2="193.10" y2="665.00" stroke="#262626" stroke-width="0.90"/>
<text x="193.10" y="671.90" font-size="6.60" text-anchor="middle" fill="#1a1a1a" stroke="#1a1a1a" stroke-width="0.236">3</text>
<line x1="207.30" y1="661.70" x2="207.30" y2="665.00" stroke="#262626" stroke-width="0.90"/>
<text x="207.30" y="671.90" font-size="6.60" text-anchor="middle" fill="#1a1a1a" stroke="#1a1a1a" stroke-width="0.236">4</text>
<line x1="221.50" y1="661.70" x2="221.50" y2="665.00" stroke="#262626" stroke-width="0.90"/>
<text x="221.50" y="671.90" font-size="6.60" text-anchor="middle" fill="#1a1a1a" stroke="#1a1a1a" stroke-width="0.236">5</text>
<text x="86.04" y="533.10" font-size="9.00" textLength="93.69" lengthAdjust="spacingAndGlyphs" fill="#1a1a1a" stroke="#1a1a1a" stroke-width="0.250">Reactome Pathways 2024</text>
<text x="166.53" y="680.00" font-size="6.40" textLength="10.27" lengthAdjust="spacingAndGlyphs" fill="#1a1a1a" stroke="#1a1a1a" stroke-width="0.229">-log</text>
<text x="175.93" y="683.90" font-size="5.40" textLength="5.35" lengthAdjust="spacingAndGlyphs" fill="#1a1a1a" stroke="#1a1a1a" stroke-width="0.193">10</text>
<text x="182.86" y="680.00" font-size="6.40" textLength="27.60" lengthAdjust="spacingAndGlyphs" fill="#1a1a1a" stroke="#1a1a1a" stroke-width="0.229">adj p value</text>
<rect x="389.10" y="548.90" width="38.90" height="8.50" fill="#42a56a"/>
<rect x="389.10" y="560.21" width="38.90" height="8.50" fill="#42a56a"/>
<rect x="389.10" y="571.52" width="39.60" height="8.50" fill="#42a56a"/>
<rect x="389.10" y="582.83" width="39.60" height="8.50" fill="#42a56a"/>
<rect x="389.10" y="594.14" width="44.70" height="8.50" fill="#42a56a"/>
<rect x="389.10" y="605.45" width="46.60" height="8.50" fill="#42a56a"/>
<rect x="389.10" y="616.76" width="50.90" height="8.50" fill="#42a56a"/>
<rect x="389.10" y="628.07" width="52.10" height="8.50" fill="#42a56a"/>
<rect x="389.10" y="639.38" width="56.70" height="8.50" fill="#42a56a"/>
<rect x="389.10" y="650.69" width="57.80" height="8.50" fill="#42a56a"/>
<line x1="388.60" y1="546.00" x2="388.60" y2="661.80" stroke="#262626" stroke-width="1.10"/>
<line x1="388.10" y1="661.20" x2="460.10" y2="661.20" stroke="#262626" stroke-width="1.10"/>
<line x1="385.30" y1="553.15" x2="388.60" y2="553.15" stroke="#262626" stroke-width="0.90"/>
<text x="272.16" y="555.55" font-size="7.30" textLength="112.69" lengthAdjust="spacingAndGlyphs" fill="#1a1a1a" stroke="#1a1a1a" stroke-width="0.250">Cardiac Muscle Tissue Development</text>
<line x1="385.30" y1="564.46" x2="388.60" y2="564.46" stroke="#262626" stroke-width="0.90"/>
<text x="269.85" y="566.86" font-size="7.30" textLength="115.40" lengthAdjust="spacingAndGlyphs" fill="#1a1a1a" stroke="#1a1a1a" stroke-width="0.250">Regulation Of Myotube Differentiation</text>
<line x1="385.30" y1="575.77" x2="388.60" y2="575.77" stroke="#262626" stroke-width="0.90"/>
<text x="256.38" y="578.17" font-size="7.30" textLength="128.47" lengthAdjust="spacingAndGlyphs" fill="#1a1a1a" stroke="#1a1a1a" stroke-width="0.250">Cardiac Conduction System Development</text>
<line x1="385.30" y1="587.08" x2="388.60" y2="587.08" stroke="#262626" stroke-width="0.90"/>
<text x="280.23" y="589.48" font-size="7.30" textLength="105.02" lengthAdjust="spacingAndGlyphs" fill="#1a1a1a" stroke="#1a1a1a" stroke-width="0.250">Regulation Of Cardiac Conduction</text>
<line x1="385.30" y1="598.39" x2="388.60" y2="598.39" stroke="#262626" stroke-width="0.90"/>
<text x="300.24" y="600.79" font-size="7.30" textLength="85.00" lengthAdjust="spacingAndGlyphs" fill="#1a1a1a" stroke="#1a1a1a" stroke-width="0.250">Striated Muscle Contraction</text>
<line x1="385.30" y1="609.70" x2="388.60" y2="609.70" stroke="#262626" stroke-width="0.90"/>
<text x="275.57" y="612.10" font-size="7.30" textLength="109.25" lengthAdjust="spacingAndGlyphs" fill="#1a1a1a" stroke="#1a1a1a" stroke-width="0.250">Activin Receptor Signaling Pathway</text>
<line x1="385.30" y1="621.01" x2="388.60" y2="621.01" stroke="#262626" stroke-width="0.90"/>
<text x="251.77" y="623.41" font-size="7.30" textLength="133.48" lengthAdjust="spacingAndGlyphs" fill="#1a1a1a" stroke="#1a1a1a" stroke-width="0.250">ATP-dependent Activity Positive Regulation</text>
<line x1="385.30" y1="632.32" x2="388.60" y2="632.32" stroke="#262626" stroke-width="0.90"/>
<text x="331.01" y="634.72" font-size="7.30" textLength="54.23" lengthAdjust="spacingAndGlyphs" fill="#1a1a1a" stroke="#1a1a1a" stroke-width="0.250">Heart Contraction</text>
<line x1="385.30" y1="643.63" x2="388.60" y2="643.63" stroke="#262626" stroke-width="0.90"/>
<text x="300.25" y="646.03" font-size="7.30" textLength="85.00" lengthAdjust="spacingAndGlyphs" fill="#1a1a1a" stroke="#1a1a1a" stroke-width="0.250">Cardiac Muscle Contraction</text>
<line x1="385.30" y1="654.94" x2="388.60" y2="654.94" stroke="#262626" stroke-width="0.90"/>
<text x="286.78" y="657.34" font-size="7.30" textLength="98.47" lengthAdjust="spacingAndGlyphs" fill="#1a1a1a" stroke="#1a1a1a" stroke-width="0.250">Regulation Of Heart Contraction</text>
<line x1="388.60" y1="661.20" x2="388.60" y2="664.50" stroke="#262626" stroke-width="0.90"/>
<text x="388.60" y="671.40" font-size="6.60" text-anchor="middle" fill="#1a1a1a" stroke="#1a1a1a" stroke-width="0.236">0</text>
<line x1="406.40" y1="661.20" x2="406.40" y2="664.50" stroke="#262626" stroke-width="0.90"/>
<text x="406.40" y="671.40" font-size="6.60" text-anchor="middle" fill="#1a1a1a" stroke="#1a1a1a" stroke-width="0.236">1</text>
<line x1="424.20" y1="661.20" x2="424.20" y2="664.50" stroke="#262626" stroke-width="0.90"/>
<text x="424.20" y="671.40" font-size="6.60" text-anchor="middle" fill="#1a1a1a" stroke="#1a1a1a" stroke-width="0.236">2</text>
<line x1="442.00" y1="661.20" x2="442.00" y2="664.50" stroke="#262626" stroke-width="0.90"/>
<text x="442.00" y="671.40" font-size="6.60" text-anchor="middle" fill="#1a1a1a" stroke="#1a1a1a" stroke-width="0.236">3</text>
<line x1="459.80" y1="661.20" x2="459.80" y2="664.50" stroke="#262626" stroke-width="0.90"/>
<text x="459.80" y="671.40" font-size="6.60" text-anchor="middle" fill="#1a1a1a" stroke="#1a1a1a" stroke-width="0.236">4</text>
<text x="313.60" y="533.80" font-size="9.00" textLength="99.75" lengthAdjust="spacingAndGlyphs" fill="#1a1a1a" stroke="#1a1a1a" stroke-width="0.250">GO Biological Process 2023</text>
<text x="406.63" y="679.50" font-size="6.40" textLength="10.27" lengthAdjust="spacingAndGlyphs" fill="#1a1a1a" stroke="#1a1a1a" stroke-width="0.229">-log</text>
<text x="416.03" y="683.40" font-size="5.40" textLength="5.35" lengthAdjust="spacingAndGlyphs" fill="#1a1a1a" stroke="#1a1a1a" stroke-width="0.193">10</text>
<text x="422.96" y="679.50" font-size="6.40" textLength="27.60" lengthAdjust="spacingAndGlyphs" fill="#1a1a1a" stroke="#1a1a1a" stroke-width="0.229">adj p value</text>
<rect x="610.00" y="550.40" width="37.10" height="8.30" fill="#42a56a"/>
<rect x="610.00" y="561.60" width="37.10" height="8.30" fill="#42a56a"/>
<rect x="610.00" y="572.80" width="37.60" height="8.30" fill="#42a56a"/>
<rect x="610.00" y="584.00" width="39.00" height="8.30" fill="#42a56a"/>
<rect x="610.00" y="595.20" width="40.70" height="8.30" fill="#42a56a"/>
<rect x="610.00" y="606.40" width="42.40" height="8.30" fill="#42a56a"/>
<rect x="610.00" y="617.60" width="43.60" height="8.30" fill="#42a56a"/>
<rect x="610.00" y="628.80" width="51.00" height="8.30" fill="#42a56a"/>
<rect x="610.00" y="640.00" width="52.70" height="8.30" fill="#42a56a"/>
<rect x="610.00" y="651.20" width="58.70" height="8.30" fill="#42a56a"/>
<line x1="609.50" y1="547.10" x2="609.50" y2="663.00" stroke="#262626" stroke-width="1.10"/>
<line x1="609.00" y1="662.40" x2="681.60" y2="662.40" stroke="#262626" stroke-width="1.10"/>
<line x1="606.20" y1="554.55" x2="609.50" y2="554.55" stroke="#262626" stroke-width="0.90"/>
<text x="558.60" y="556.95" font-size="7.30" textLength="47.32" lengthAdjust="spacingAndGlyphs" fill="#1a1a1a" stroke="#1a1a1a" stroke-width="0.250">Feeling despair</text>
<line x1="606.20" y1="565.75" x2="609.50" y2="565.75" stroke="#262626" stroke-width="0.90"/>
<text x="566.43" y="568.15" font-size="7.30" textLength="39.62" lengthAdjust="spacingAndGlyphs" fill="#1a1a1a" stroke="#1a1a1a" stroke-width="0.250">Night sweats</text>
<line x1="606.20" y1="576.95" x2="609.50" y2="576.95" stroke="#262626" stroke-width="0.90"/>
<text x="567.41" y="579.35" font-size="7.30" textLength="38.84" lengthAdjust="spacingAndGlyphs" fill="#1a1a1a" stroke="#1a1a1a" stroke-width="0.250">Rheumatism</text>
<line x1="606.20" y1="588.15" x2="609.50" y2="588.15" stroke="#262626" stroke-width="0.90"/>
<text x="532.32" y="590.55" font-size="7.30" textLength="73.48" lengthAdjust="spacingAndGlyphs" fill="#1a1a1a" stroke="#1a1a1a" stroke-width="0.250">Paranoid Schizophrenia</text>
<line x1="606.20" y1="599.35" x2="609.50" y2="599.35" stroke="#262626" stroke-width="0.90"/>
<text x="559.17" y="601.75" font-size="7.30" textLength="46.94" lengthAdjust="spacingAndGlyphs" fill="#1a1a1a" stroke="#1a1a1a" stroke-width="0.250">Cocaine Abuse</text>
<line x1="606.20" y1="610.55" x2="609.50" y2="610.55" stroke="#262626" stroke-width="0.90"/>
<text x="538.39" y="612.95" font-size="7.30" textLength="67.71" lengthAdjust="spacingAndGlyphs" fill="#1a1a1a" stroke="#1a1a1a" stroke-width="0.250">Tobacco Dependence</text>
<line x1="606.20" y1="621.75" x2="609.50" y2="621.75" stroke="#262626" stroke-width="0.90"/>
<text x="522.97" y="624.15" font-size="7.30" textLength="83.08" lengthAdjust="spacingAndGlyphs" fill="#1a1a1a" stroke="#1a1a1a" stroke-width="0.250">Cocaine-Related Disorders</text>
<line x1="606.20" y1="632.95" x2="609.50" y2="632.95" stroke="#262626" stroke-width="0.90"/>
<text x="540.91" y="635.35" font-size="7.30" textLength="65.00" lengthAdjust="spacingAndGlyphs" fill="#1a1a1a" stroke="#1a1a1a" stroke-width="0.250">Alcohol Use Disorder</text>
<line x1="606.20" y1="644.15" x2="609.50" y2="644.15" stroke="#262626" stroke-width="0.90"/>
<text x="522.26" y="646.55" font-size="7.30" textLength="83.85" lengthAdjust="spacingAndGlyphs" fill="#1a1a1a" stroke="#1a1a1a" stroke-width="0.250">Cytokine release syndrome</text>
<line x1="606.20" y1="655.35" x2="609.50" y2="655.35" stroke="#262626" stroke-width="0.90"/>
<text x="539.55" y="657.75" font-size="7.30" textLength="66.56" lengthAdjust="spacingAndGlyphs" fill="#1a1a1a" stroke="#1a1a1a" stroke-width="0.250">Cocaine Dependence</text>
<line x1="609.50" y1="662.40" x2="609.50" y2="665.70" stroke="#262626" stroke-width="0.90"/>
<text x="609.50" y="672.60" font-size="6.60" text-anchor="middle" fill="#1a1a1a" stroke="#1a1a1a" stroke-width="0.236">0</text>
<line x1="633.36" y1="662.40" x2="633.36" y2="665.70" stroke="#262626" stroke-width="0.90"/>
<text x="633.36" y="672.60" font-size="6.60" text-anchor="middle" fill="#1a1a1a" stroke="#1a1a1a" stroke-width="0.236">2</text>
<line x1="657.22" y1="662.40" x2="657.22" y2="665.70" stroke="#262626" stroke-width="0.90"/>
<text x="657.22" y="672.60" font-size="6.60" text-anchor="middle" fill="#1a1a1a" stroke="#1a1a1a" stroke-width="0.236">4</text>
<line x1="681.08" y1="662.40" x2="681.08" y2="665.70" stroke="#262626" stroke-width="0.90"/>
<text x="681.08" y="672.60" font-size="6.60" text-anchor="middle" fill="#1a1a1a" stroke="#1a1a1a" stroke-width="0.236">6</text>
<text x="604.94" y="534.40" font-size="9.00" textLength="38.24" lengthAdjust="spacingAndGlyphs" fill="#1a1a1a" stroke="#1a1a1a" stroke-width="0.250">DisGeNET</text>
<text x="625.03" y="680.70" font-size="6.40" textLength="10.27" lengthAdjust="spacingAndGlyphs" fill="#1a1a1a" stroke="#1a1a1a" stroke-width="0.229">-log</text>
<text x="634.43" y="684.60" font-size="5.40" textLength="5.35" lengthAdjust="spacingAndGlyphs" fill="#1a1a1a" stroke="#1a1a1a" stroke-width="0.193">10</text>
<text x="641.36" y="680.70" font-size="6.40" textLength="27.60" lengthAdjust="spacingAndGlyphs" fill="#1a1a1a" stroke="#1a1a1a" stroke-width="0.229">adj p value</text>
<text x="5.25" y="704.00" font-size="12.80" textLength="7.74" lengthAdjust="spacingAndGlyphs" font-weight="bold" fill="#111">L</text>
<text x="4.89" y="857.80" font-size="12.80" textLength="11.32" lengthAdjust="spacingAndGlyphs" font-weight="bold" fill="#111">M</text>
<path d="M167.15,821.60 V781.15 H185.95 V821.60" fill="none" stroke="#c8262a" stroke-width="1.90" stroke-linejoin="miter"/>
<line x1="127.10" y1="716.90" x2="127.10" y2="822.20" stroke="#1e1e1e" stroke-width="1.20"/>
<line x1="126.50" y1="821.60" x2="196.70" y2="821.60" stroke="#1e1e1e" stroke-width="1.20"/>
<line x1="123.50" y1="717.70" x2="127.10" y2="717.70" stroke="#1e1e1e" stroke-width="1.00"/>
<text x="111.58" y="720.00" font-size="7.00" textLength="9.73" lengthAdjust="spacingAndGlyphs" fill="#1e1e1e" stroke="#1e1e1e" stroke-width="0.220">0.6</text>
<line x1="123.50" y1="752.30" x2="127.10" y2="752.30" stroke="#1e1e1e" stroke-width="1.00"/>
<text x="111.47" y="754.60" font-size="7.00" textLength="9.73" lengthAdjust="spacingAndGlyphs" fill="#1e1e1e" stroke="#1e1e1e" stroke-width="0.220">0.4</text>
<line x1="123.50" y1="787.10" x2="127.10" y2="787.10" stroke="#1e1e1e" stroke-width="1.00"/>
<text x="111.62" y="789.40" font-size="7.00" textLength="9.73" lengthAdjust="spacingAndGlyphs" fill="#1e1e1e" stroke="#1e1e1e" stroke-width="0.220">0.2</text>
<line x1="123.50" y1="821.60" x2="127.10" y2="821.60" stroke="#1e1e1e" stroke-width="1.00"/>
<text x="111.54" y="823.90" font-size="7.00" textLength="9.73" lengthAdjust="spacingAndGlyphs" fill="#1e1e1e" stroke="#1e1e1e" stroke-width="0.220">0.0</text>
<line x1="146.50" y1="821.60" x2="146.50" y2="823.90" stroke="#1e1e1e" stroke-width="1.00"/>
<line x1="176.40" y1="821.60" x2="176.40" y2="823.90" stroke="#1e1e1e" stroke-width="1.00"/>
<circle cx="138.20" cy="820.00" r="2.20" fill="#111"/>
<circle cx="143.90" cy="819.40" r="2.20" fill="#111"/>
<circle cx="149.40" cy="820.20" r="2.20" fill="#111"/>
<circle cx="155.10" cy="820.20" r="2.20" fill="#111"/>
<line x1="176.40" y1="755.80" x2="176.40" y2="804.40" stroke="#c8262a" stroke-width="1.30"/>
<line x1="171.50" y1="755.80" x2="181.30" y2="755.80" stroke="#c8262a" stroke-width="1.30"/>
<line x1="171.50" y1="804.40" x2="181.30" y2="804.40" stroke="#c8262a" stroke-width="1.30"/>
<circle cx="176.40" cy="733.00" r="2.20" fill="#c8262a"/>
<circle cx="176.40" cy="773.30" r="2.20" fill="#c8262a"/>
<circle cx="176.40" cy="776.00" r="2.20" fill="#c8262a"/>
<circle cx="176.40" cy="782.50" r="2.20" fill="#c8262a"/>
<circle cx="176.70" cy="787.50" r="2.20" fill="#c8262a"/>
<circle cx="176.70" cy="799.60" r="2.20" fill="#c8262a"/>
<circle cx="176.70" cy="809.00" r="2.20" fill="#c8262a"/>
<line x1="147.00" y1="724.10" x2="176.50" y2="724.10" stroke="#707070" stroke-width="1.00"/>
<text x="147.23" y="721.90" font-size="6.90" textLength="27.54" lengthAdjust="spacingAndGlyphs" fill="#1e1e1e" stroke="#1e1e1e" stroke-width="0.217">&lt;0.0001</text>
<text x="152.06" y="705.00" font-size="8.80" textLength="20.90" lengthAdjust="spacingAndGlyphs" fill="#1a1a1a" stroke="#1a1a1a" stroke-width="0.220">Cd74</text>
<text x="136.31" y="833.60" font-size="7.90" textLength="19.94" lengthAdjust="spacingAndGlyphs" fill="#1e1e1e" stroke="#1e1e1e" stroke-width="0.220">CTRL</text>
<text x="168.15" y="833.60" font-size="7.90" textLength="15.89" lengthAdjust="spacingAndGlyphs" fill="#1e1e1e" stroke="#1e1e1e" stroke-width="0.220">EAE</text>
<text x="102.90" y="818.31" font-size="9.40" textLength="101.92" lengthAdjust="spacingAndGlyphs" fill="#1e1e1e" stroke="#1e1e1e" stroke-width="0.220" transform="rotate(-90 102.90 818.31)">2^-DCt (Normalized on L34)</text>
<path d="M313.35,822.20 V800.65 H330.65 V822.20" fill="none" stroke="#c8262a" stroke-width="1.90" stroke-linejoin="miter"/>
<line x1="273.10" y1="717.80" x2="273.10" y2="822.80" stroke="#1e1e1e" stroke-width="1.20"/>
<line x1="272.50" y1="822.20" x2="342.30" y2="822.20" stroke="#1e1e1e" stroke-width="1.20"/>
<line x1="269.50" y1="717.50" x2="273.10" y2="717.50" stroke="#1e1e1e" stroke-width="1.00"/>
<text x="255.88" y="719.80" font-size="7.00" textLength="13.62" lengthAdjust="spacingAndGlyphs" fill="#1e1e1e" stroke="#1e1e1e" stroke-width="0.220">0.03</text>
<line x1="269.50" y1="752.60" x2="273.10" y2="752.60" stroke="#1e1e1e" stroke-width="1.00"/>
<text x="255.93" y="754.90" font-size="7.00" textLength="13.62" lengthAdjust="spacingAndGlyphs" fill="#1e1e1e" stroke="#1e1e1e" stroke-width="0.220">0.02</text>
<line x1="269.50" y1="787.10" x2="273.10" y2="787.10" stroke="#1e1e1e" stroke-width="1.00"/>
<text x="255.92" y="789.40" font-size="7.00" textLength="13.62" lengthAdjust="spacingAndGlyphs" fill="#1e1e1e" stroke="#1e1e1e" stroke-width="0.220">0.01</text>
<line x1="269.50" y1="821.90" x2="273.10" y2="821.90" stroke="#1e1e1e" stroke-width="1.00"/>
<text x="255.85" y="824.20" font-size="7.00" textLength="13.62" lengthAdjust="spacingAndGlyphs" fill="#1e1e1e" stroke="#1e1e1e" stroke-width="0.220">0.00</text>
<line x1="292.60" y1="822.20" x2="292.60" y2="824.50" stroke="#1e1e1e" stroke-width="1.00"/>
<line x1="322.20" y1="822.20" x2="322.20" y2="824.50" stroke="#1e1e1e" stroke-width="1.00"/>
<circle cx="284.80" cy="820.60" r="2.20" fill="#111"/>
<circle cx="289.50" cy="821.40" r="2.20" fill="#111"/>
<circle cx="294.20" cy="821.00" r="2.20" fill="#111"/>
<circle cx="300.30" cy="820.00" r="2.20" fill="#111"/>
<line x1="322.20" y1="771.20" x2="322.20" y2="799.70" stroke="#c8262a" stroke-width="1.30"/>
<line x1="317.30" y1="771.20" x2="327.10" y2="771.20" stroke="#c8262a" stroke-width="1.30"/>
<line x1="317.30" y1="799.70" x2="327.10" y2="799.70" stroke="#c8262a" stroke-width="1.30"/>
<circle cx="322.20" cy="736.20" r="2.20" fill="#c8262a"/>
<circle cx="314.30" cy="808.60" r="2.20" fill="#c8262a"/>
<circle cx="319.40" cy="805.80" r="2.20" fill="#c8262a"/>
<circle cx="329.90" cy="807.50" r="2.20" fill="#c8262a"/>
<circle cx="325.30" cy="811.40" r="2.20" fill="#c8262a"/>
<circle cx="320.10" cy="814.50" r="2.20" fill="#c8262a"/>
<circle cx="325.30" cy="807.90" r="2.20" fill="#c8262a"/>
<line x1="292.60" y1="723.40" x2="322.20" y2="723.40" stroke="#707070" stroke-width="1.00"/>
<text x="295.69" y="721.20" font-size="6.90" textLength="24.10" lengthAdjust="spacingAndGlyphs" fill="#1e1e1e" stroke="#1e1e1e" stroke-width="0.217">0.0002</text>
<text x="298.00" y="705.00" font-size="8.80" textLength="20.69" lengthAdjust="spacingAndGlyphs" fill="#1a1a1a" stroke="#1a1a1a" stroke-width="0.220">Saa3</text>
<text x="282.41" y="833.60" font-size="7.90" textLength="19.94" lengthAdjust="spacingAndGlyphs" fill="#1e1e1e" stroke="#1e1e1e" stroke-width="0.220">CTRL</text>
<text x="313.95" y="833.60" font-size="7.90" textLength="15.89" lengthAdjust="spacingAndGlyphs" fill="#1e1e1e" stroke="#1e1e1e" stroke-width="0.220">EAE</text>
<text x="245.10" y="818.31" font-size="9.40" textLength="101.92" lengthAdjust="spacingAndGlyphs" fill="#1e1e1e" stroke="#1e1e1e" stroke-width="0.220" transform="rotate(-90 245.10 818.31)">2^-DCt (Normalized on L34)</text>
<path d="M466.35,821.90 V784.35 H483.15 V821.90" fill="none" stroke="#c8262a" stroke-width="1.90" stroke-linejoin="miter"/>
<line x1="425.40" y1="718.00" x2="425.40" y2="822.50" stroke="#1e1e1e" stroke-width="1.20"/>
<line x1="424.80" y1="821.90" x2="494.60" y2="821.90" stroke="#1e1e1e" stroke-width="1.20"/>
<line x1="421.80" y1="718.20" x2="425.40" y2="718.20" stroke="#1e1e1e" stroke-width="1.00"/>
<text x="404.69" y="720.50" font-size="7.00" textLength="17.52" lengthAdjust="spacingAndGlyphs" fill="#1e1e1e" stroke="#1e1e1e" stroke-width="0.220">0.008</text>
<line x1="421.80" y1="744.40" x2="425.40" y2="744.40" stroke="#1e1e1e" stroke-width="1.00"/>
<text x="404.69" y="746.70" font-size="7.00" textLength="17.52" lengthAdjust="spacingAndGlyphs" fill="#1e1e1e" stroke="#1e1e1e" stroke-width="0.220">0.006</text>
<line x1="421.80" y1="770.00" x2="425.40" y2="770.00" stroke="#1e1e1e" stroke-width="1.00"/>
<text x="404.59" y="772.30" font-size="7.00" textLength="17.52" lengthAdjust="spacingAndGlyphs" fill="#1e1e1e" stroke="#1e1e1e" stroke-width="0.220">0.004</text>
<line x1="421.80" y1="795.80" x2="425.40" y2="795.80" stroke="#1e1e1e" stroke-width="1.00"/>
<text x="404.73" y="798.10" font-size="7.00" textLength="17.52" lengthAdjust="spacingAndGlyphs" fill="#1e1e1e" stroke="#1e1e1e" stroke-width="0.220">0.002</text>
<line x1="421.80" y1="821.90" x2="425.40" y2="821.90" stroke="#1e1e1e" stroke-width="1.00"/>
<text x="404.66" y="824.20" font-size="7.00" textLength="17.52" lengthAdjust="spacingAndGlyphs" fill="#1e1e1e" stroke="#1e1e1e" stroke-width="0.220">0.000</text>
<line x1="444.40" y1="821.90" x2="444.40" y2="824.20" stroke="#1e1e1e" stroke-width="1.00"/>
<line x1="474.70" y1="821.90" x2="474.70" y2="824.20" stroke="#1e1e1e" stroke-width="1.00"/>
<circle cx="433.50" cy="820.40" r="2.20" fill="#111"/>
<circle cx="439.00" cy="820.40" r="2.20" fill="#111"/>
<circle cx="444.40" cy="820.40" r="2.20" fill="#111"/>
<circle cx="450.00" cy="820.00" r="2.20" fill="#111"/>
<line x1="474.70" y1="753.30" x2="474.70" y2="812.80" stroke="#c8262a" stroke-width="1.30"/>
<line x1="469.80" y1="753.30" x2="479.60" y2="753.30" stroke="#c8262a" stroke-width="1.30"/>
<line x1="469.80" y1="812.80" x2="479.60" y2="812.80" stroke="#c8262a" stroke-width="1.30"/>
<circle cx="474.70" cy="731.50" r="2.20" fill="#c8262a"/>
<circle cx="474.70" cy="763.00" r="2.20" fill="#c8262a"/>
<circle cx="474.70" cy="776.60" r="2.20" fill="#c8262a"/>
<circle cx="471.20" cy="787.60" r="2.20" fill="#c8262a"/>
<circle cx="477.80" cy="791.80" r="2.20" fill="#c8262a"/>
<circle cx="471.20" cy="815.60" r="2.20" fill="#c8262a"/>
<circle cx="477.80" cy="814.50" r="2.20" fill="#c8262a"/>
<line x1="445.50" y1="723.80" x2="474.70" y2="723.80" stroke="#707070" stroke-width="1.00"/>
<text x="447.59" y="721.60" font-size="6.90" textLength="23.95" lengthAdjust="spacingAndGlyphs" fill="#1e1e1e" stroke="#1e1e1e" stroke-width="0.217">0.0003</text>
<text x="449.98" y="705.00" font-size="8.80" textLength="20.54" lengthAdjust="spacingAndGlyphs" fill="#1a1a1a" stroke="#1a1a1a" stroke-width="0.220">Ccl2</text>
<text x="434.21" y="833.60" font-size="7.90" textLength="19.94" lengthAdjust="spacingAndGlyphs" fill="#1e1e1e" stroke="#1e1e1e" stroke-width="0.220">CTRL</text>
<text x="466.45" y="833.60" font-size="7.90" textLength="15.89" lengthAdjust="spacingAndGlyphs" fill="#1e1e1e" stroke="#1e1e1e" stroke-width="0.220">EAE</text>
<text x="394.10" y="818.31" font-size="9.40" textLength="101.92" lengthAdjust="spacingAndGlyphs" fill="#1e1e1e" stroke="#1e1e1e" stroke-width="0.220" transform="rotate(-90 394.10 818.31)">2^-DCt (Normalized on L34)</text>
<path d="M614.95,822.30 V792.65 H632.15 V822.30" fill="none" stroke="#c8262a" stroke-width="1.90" stroke-linejoin="miter"/>
<line x1="574.30" y1="717.80" x2="574.30" y2="822.90" stroke="#1e1e1e" stroke-width="1.20"/>
<line x1="573.70" y1="822.30" x2="643.30" y2="822.30" stroke="#1e1e1e" stroke-width="1.20"/>
<line x1="570.70" y1="718.60" x2="574.30" y2="718.60" stroke="#1e1e1e" stroke-width="1.00"/>
<text x="555.07" y="720.90" font-size="7.00" textLength="13.62" lengthAdjust="spacingAndGlyphs" fill="#1e1e1e" stroke="#1e1e1e" stroke-width="0.220">0.05</text>
<line x1="570.70" y1="739.20" x2="574.30" y2="739.20" stroke="#1e1e1e" stroke-width="1.00"/>
<text x="554.98" y="741.50" font-size="7.00" textLength="13.62" lengthAdjust="spacingAndGlyphs" fill="#1e1e1e" stroke="#1e1e1e" stroke-width="0.220">0.04</text>
<line x1="570.70" y1="759.90" x2="574.30" y2="759.90" stroke="#1e1e1e" stroke-width="1.00"/>
<text x="555.08" y="762.20" font-size="7.00" textLength="13.62" lengthAdjust="spacingAndGlyphs" fill="#1e1e1e" stroke="#1e1e1e" stroke-width="0.220">0.03</text>
<line x1="570.70" y1="780.40" x2="574.30" y2="780.40" stroke="#1e1e1e" stroke-width="1.00"/>
<text x="555.13" y="782.70" font-size="7.00" textLength="13.62" lengthAdjust="spacingAndGlyphs" fill="#1e1e1e" stroke="#1e1e1e" stroke-width="0.220">0.02</text>
<line x1="570.70" y1="801.20" x2="574.30" y2="801.20" stroke="#1e1e1e" stroke-width="1.00"/>
<text x="555.12" y="803.50" font-size="7.00" textLength="13.62" lengthAdjust="spacingAndGlyphs" fill="#1e1e1e" stroke="#1e1e1e" stroke-width="0.220">0.01</text>
<line x1="570.70" y1="822.10" x2="574.30" y2="822.10" stroke="#1e1e1e" stroke-width="1.00"/>
<text x="555.05" y="824.40" font-size="7.00" textLength="13.62" lengthAdjust="spacingAndGlyphs" fill="#1e1e1e" stroke="#1e1e1e" stroke-width="0.220">0.00</text>
<line x1="593.60" y1="822.30" x2="593.60" y2="824.60" stroke="#1e1e1e" stroke-width="1.00"/>
<line x1="623.60" y1="822.30" x2="623.60" y2="824.60" stroke="#1e1e1e" stroke-width="1.00"/>
<circle cx="583.40" cy="820.80" r="2.20" fill="#111"/>
<circle cx="588.50" cy="820.80" r="2.20" fill="#111"/>
<circle cx="593.60" cy="821.20" r="2.20" fill="#111"/>
<circle cx="598.70" cy="820.60" r="2.20" fill="#111"/>
<line x1="623.60" y1="764.10" x2="623.60" y2="817.50" stroke="#c8262a" stroke-width="1.30"/>
<line x1="618.70" y1="764.10" x2="628.50" y2="764.10" stroke="#c8262a" stroke-width="1.30"/>
<line x1="618.70" y1="817.50" x2="628.50" y2="817.50" stroke="#c8262a" stroke-width="1.30"/>
<circle cx="623.60" cy="741.30" r="2.20" fill="#c8262a"/>
<circle cx="620.40" cy="779.00" r="2.20" fill="#c8262a"/>
<circle cx="626.80" cy="783.20" r="2.20" fill="#c8262a"/>
<circle cx="623.60" cy="793.80" r="2.20" fill="#c8262a"/>
<circle cx="623.60" cy="804.80" r="2.20" fill="#c8262a"/>
<circle cx="620.40" cy="817.50" r="2.20" fill="#c8262a"/>
<circle cx="626.80" cy="817.50" r="2.20" fill="#c8262a"/>
<line x1="594.00" y1="723.90" x2="623.60" y2="723.90" stroke="#707070" stroke-width="1.00"/>
<text x="598.49" y="721.70" font-size="6.90" textLength="19.80" lengthAdjust="spacingAndGlyphs" fill="#1e1e1e" stroke="#1e1e1e" stroke-width="0.217">0.001</text>
<text x="597.99" y="705.00" font-size="8.80" textLength="19.92" lengthAdjust="spacingAndGlyphs" fill="#1a1a1a" stroke="#1a1a1a" stroke-width="0.220">Ccl5</text>
<text x="583.41" y="833.60" font-size="7.90" textLength="19.94" lengthAdjust="spacingAndGlyphs" fill="#1e1e1e" stroke="#1e1e1e" stroke-width="0.220">CTRL</text>
<text x="615.35" y="833.60" font-size="7.90" textLength="15.89" lengthAdjust="spacingAndGlyphs" fill="#1e1e1e" stroke="#1e1e1e" stroke-width="0.220">EAE</text>
<text x="550.00" y="818.31" font-size="9.40" textLength="101.92" lengthAdjust="spacingAndGlyphs" fill="#1e1e1e" stroke="#1e1e1e" stroke-width="0.220" transform="rotate(-90 550.00 818.31)">2^-DCt (Normalized on L34)</text>
<path d="M138.55,977.60 V905.75 H155.95 V977.60" fill="none" stroke="#111" stroke-width="1.90" stroke-linejoin="miter"/>
<path d="M167.75,977.60 V946.25 H185.95 V977.60" fill="none" stroke="#3fa462" stroke-width="1.90" stroke-linejoin="miter"/>
<line x1="127.70" y1="873.70" x2="127.70" y2="978.20" stroke="#1e1e1e" stroke-width="1.20"/>
<line x1="127.10" y1="977.60" x2="196.80" y2="977.60" stroke="#1e1e1e" stroke-width="1.20"/>
<line x1="124.10" y1="873.50" x2="127.70" y2="873.50" stroke="#1e1e1e" stroke-width="1.00"/>
<text x="110.95" y="875.80" font-size="7.00" textLength="13.62" lengthAdjust="spacingAndGlyphs" fill="#1e1e1e" stroke="#1e1e1e" stroke-width="0.220">0.20</text>
<line x1="124.10" y1="899.70" x2="127.70" y2="899.70" stroke="#1e1e1e" stroke-width="1.00"/>
<text x="110.97" y="902.00" font-size="7.00" textLength="13.62" lengthAdjust="spacingAndGlyphs" fill="#1e1e1e" stroke="#1e1e1e" stroke-width="0.220">0.15</text>
<line x1="124.10" y1="925.90" x2="127.70" y2="925.90" stroke="#1e1e1e" stroke-width="1.00"/>
<text x="110.95" y="928.20" font-size="7.00" textLength="13.62" lengthAdjust="spacingAndGlyphs" fill="#1e1e1e" stroke="#1e1e1e" stroke-width="0.220">0.10</text>
<line x1="124.10" y1="951.60" x2="127.70" y2="951.60" stroke="#1e1e1e" stroke-width="1.00"/>
<text x="110.97" y="953.90" font-size="7.00" textLength="13.62" lengthAdjust="spacingAndGlyphs" fill="#1e1e1e" stroke="#1e1e1e" stroke-width="0.220">0.05</text>
<line x1="124.10" y1="977.30" x2="127.70" y2="977.30" stroke="#1e1e1e" stroke-width="1.00"/>
<text x="110.95" y="979.60" font-size="7.00" textLength="13.62" lengthAdjust="spacingAndGlyphs" fill="#1e1e1e" stroke="#1e1e1e" stroke-width="0.220">0.00</text>
<line x1="147.30" y1="977.60" x2="147.30" y2="979.90" stroke="#1e1e1e" stroke-width="1.00"/>
<line x1="176.90" y1="977.60" x2="176.90" y2="979.90" stroke="#1e1e1e" stroke-width="1.00"/>
<line x1="147.30" y1="888.50" x2="147.30" y2="920.00" stroke="#111" stroke-width="1.30"/>
<line x1="142.40" y1="888.50" x2="152.20" y2="888.50" stroke="#111" stroke-width="1.30"/>
<line x1="142.40" y1="920.00" x2="152.20" y2="920.00" stroke="#111" stroke-width="1.30"/>
<circle cx="147.30" cy="884.50" r="2.20" fill="#111"/>
<circle cx="147.30" cy="898.50" r="2.20" fill="#111"/>
<circle cx="147.30" cy="913.70" r="2.20" fill="#111"/>
<circle cx="147.30" cy="920.30" r="2.20" fill="#111"/>
<line x1="176.90" y1="934.80" x2="176.90" y2="953.90" stroke="#3fa462" stroke-width="1.30"/>
<line x1="172.00" y1="934.80" x2="181.80" y2="934.80" stroke="#3fa462" stroke-width="1.30"/>
<line x1="172.00" y1="953.90" x2="181.80" y2="953.90" stroke="#3fa462" stroke-width="1.30"/>
<circle cx="173.40" cy="933.80" r="2.20" fill="#3fa462"/>
<circle cx="182.80" cy="935.40" r="2.20" fill="#3fa462"/>
<circle cx="170.60" cy="942.20" r="2.20" fill="#3fa462"/>
<circle cx="179.30" cy="943.40" r="2.20" fill="#3fa462"/>
<circle cx="173.40" cy="948.30" r="2.20" fill="#3fa462"/>
<circle cx="180.40" cy="949.50" r="2.20" fill="#3fa462"/>
<circle cx="176.90" cy="961.10" r="2.20" fill="#3fa462"/>
<line x1="146.90" y1="877.80" x2="176.90" y2="877.80" stroke="#707070" stroke-width="1.00"/>
<text x="152.51" y="875.60" font-size="6.90" textLength="18.87" lengthAdjust="spacingAndGlyphs" fill="#1e1e1e" stroke="#1e1e1e" stroke-width="0.217">0.002</text>
<text x="154.27" y="859.30" font-size="8.80" textLength="18.21" lengthAdjust="spacingAndGlyphs" fill="#1a1a1a" stroke="#1a1a1a" stroke-width="0.220">Bdnf</text>
<text x="137.11" y="989.20" font-size="7.90" textLength="19.94" lengthAdjust="spacingAndGlyphs" fill="#1e1e1e" stroke="#1e1e1e" stroke-width="0.220">CTRL</text>
<text x="168.65" y="989.20" font-size="7.90" textLength="15.89" lengthAdjust="spacingAndGlyphs" fill="#1e1e1e" stroke="#1e1e1e" stroke-width="0.220">EAE</text>
<text x="100.90" y="975.31" font-size="9.40" textLength="101.92" lengthAdjust="spacingAndGlyphs" fill="#1e1e1e" stroke="#1e1e1e" stroke-width="0.220" transform="rotate(-90 100.90 975.31)">2^-DCt (Normalized on L34)</text>
<path d="M284.15,977.50 V914.65 H301.65 V977.50" fill="none" stroke="#111" stroke-width="1.90" stroke-linejoin="miter"/>
<path d="M314.05,977.50 V947.35 H331.75 V977.50" fill="none" stroke="#3fa462" stroke-width="1.90" stroke-linejoin="miter"/>
<line x1="273.50" y1="873.50" x2="273.50" y2="978.10" stroke="#1e1e1e" stroke-width="1.20"/>
<line x1="272.90" y1="977.50" x2="342.80" y2="977.50" stroke="#1e1e1e" stroke-width="1.20"/>
<line x1="269.90" y1="874.00" x2="273.50" y2="874.00" stroke="#1e1e1e" stroke-width="1.00"/>
<text x="260.66" y="876.30" font-size="7.00" textLength="9.73" lengthAdjust="spacingAndGlyphs" fill="#1e1e1e" stroke="#1e1e1e" stroke-width="0.220">0.5</text>
<line x1="269.90" y1="894.60" x2="273.50" y2="894.60" stroke="#1e1e1e" stroke-width="1.00"/>
<text x="260.57" y="896.90" font-size="7.00" textLength="9.73" lengthAdjust="spacingAndGlyphs" fill="#1e1e1e" stroke="#1e1e1e" stroke-width="0.220">0.4</text>
<line x1="269.90" y1="915.40" x2="273.50" y2="915.40" stroke="#1e1e1e" stroke-width="1.00"/>
<text x="260.68" y="917.70" font-size="7.00" textLength="9.73" lengthAdjust="spacingAndGlyphs" fill="#1e1e1e" stroke="#1e1e1e" stroke-width="0.220">0.3</text>
<line x1="269.90" y1="936.20" x2="273.50" y2="936.20" stroke="#1e1e1e" stroke-width="1.00"/>
<text x="260.72" y="938.50" font-size="7.00" textLength="9.73" lengthAdjust="spacingAndGlyphs" fill="#1e1e1e" stroke="#1e1e1e" stroke-width="0.220">0.2</text>
<line x1="269.90" y1="957.00" x2="273.50" y2="957.00" stroke="#1e1e1e" stroke-width="1.00"/>
<text x="260.71" y="959.30" font-size="7.00" textLength="9.73" lengthAdjust="spacingAndGlyphs" fill="#1e1e1e" stroke="#1e1e1e" stroke-width="0.220">0.1</text>
<line x1="269.90" y1="977.50" x2="273.50" y2="977.50" stroke="#1e1e1e" stroke-width="1.00"/>
<text x="260.64" y="979.80" font-size="7.00" textLength="9.73" lengthAdjust="spacingAndGlyphs" fill="#1e1e1e" stroke="#1e1e1e" stroke-width="0.220">0.0</text>
<line x1="293.00" y1="977.50" x2="293.00" y2="979.80" stroke="#1e1e1e" stroke-width="1.00"/>
<line x1="322.90" y1="977.50" x2="322.90" y2="979.80" stroke="#1e1e1e" stroke-width="1.00"/>
<line x1="293.00" y1="896.70" x2="293.00" y2="929.40" stroke="#111" stroke-width="1.30"/>
<line x1="288.10" y1="896.70" x2="297.90" y2="896.70" stroke="#111" stroke-width="1.30"/>
<line x1="288.10" y1="929.40" x2="297.90" y2="929.40" stroke="#111" stroke-width="1.30"/>
<circle cx="293.30" cy="894.60" r="2.20" fill="#111"/>
<circle cx="289.10" cy="911.00" r="2.20" fill="#111"/>
<circle cx="297.20" cy="911.00" r="2.20" fill="#111"/>
<circle cx="293.30" cy="934.70" r="2.20" fill="#111"/>
<line x1="322.90" y1="938.70" x2="322.90" y2="954.00" stroke="#3fa462" stroke-width="1.30"/>
<line x1="318.00" y1="938.70" x2="327.80" y2="938.70" stroke="#3fa462" stroke-width="1.30"/>
<line x1="318.00" y1="954.00" x2="327.80" y2="954.00" stroke="#3fa462" stroke-width="1.30"/>
<circle cx="322.90" cy="932.90" r="2.20" fill="#3fa462"/>
<circle cx="314.80" cy="942.20" r="2.20" fill="#3fa462"/>
<circle cx="330.00" cy="942.20" r="2.20" fill="#3fa462"/>
<circle cx="319.40" cy="947.60" r="2.20" fill="#3fa462"/>
<circle cx="326.00" cy="947.60" r="2.20" fill="#3fa462"/>
<circle cx="319.90" cy="954.10" r="2.20" fill="#3fa462"/>
<circle cx="326.90" cy="950.00" r="2.20" fill="#3fa462"/>
<line x1="291.90" y1="877.00" x2="322.20" y2="877.00" stroke="#707070" stroke-width="1.00"/>
<text x="296.88" y="874.80" font-size="6.90" textLength="20.53" lengthAdjust="spacingAndGlyphs" fill="#1e1e1e" stroke="#1e1e1e" stroke-width="0.217">0.002</text>
<text x="292.59" y="859.30" font-size="8.80" textLength="30.73" lengthAdjust="spacingAndGlyphs" fill="#1a1a1a" stroke="#1a1a1a" stroke-width="0.220">Homer1</text>
<text x="282.81" y="989.20" font-size="7.90" textLength="19.94" lengthAdjust="spacingAndGlyphs" fill="#1e1e1e" stroke="#1e1e1e" stroke-width="0.220">CTRL</text>
<text x="314.65" y="989.20" font-size="7.90" textLength="15.89" lengthAdjust="spacingAndGlyphs" fill="#1e1e1e" stroke="#1e1e1e" stroke-width="0.220">EAE</text>
<text x="249.00" y="975.31" font-size="9.40" textLength="101.92" lengthAdjust="spacingAndGlyphs" fill="#1e1e1e" stroke="#1e1e1e" stroke-width="0.220" transform="rotate(-90 249.00 975.31)">2^-DCt (Normalized on L34)</text>
<path d="M437.15,977.30 V917.75 H454.45 V977.30" fill="none" stroke="#111" stroke-width="1.90" stroke-linejoin="miter"/>
<path d="M466.35,977.30 V941.95 H483.65 V977.30" fill="none" stroke="#3fa462" stroke-width="1.90" stroke-linejoin="miter"/>
<line x1="426.50" y1="872.80" x2="426.50" y2="977.90" stroke="#1e1e1e" stroke-width="1.20"/>
<line x1="425.90" y1="977.30" x2="494.60" y2="977.30" stroke="#1e1e1e" stroke-width="1.20"/>
<line x1="422.90" y1="873.50" x2="426.50" y2="873.50" stroke="#1e1e1e" stroke-width="1.00"/>
<text x="411.37" y="875.80" font-size="7.00" textLength="9.73" lengthAdjust="spacingAndGlyphs" fill="#1e1e1e" stroke="#1e1e1e" stroke-width="0.220">0.8</text>
<line x1="422.90" y1="899.20" x2="426.50" y2="899.20" stroke="#1e1e1e" stroke-width="1.00"/>
<text x="411.38" y="901.50" font-size="7.00" textLength="9.73" lengthAdjust="spacingAndGlyphs" fill="#1e1e1e" stroke="#1e1e1e" stroke-width="0.220">0.6</text>
<line x1="422.90" y1="925.40" x2="426.50" y2="925.40" stroke="#1e1e1e" stroke-width="1.00"/>
<text x="411.27" y="927.70" font-size="7.00" textLength="9.73" lengthAdjust="spacingAndGlyphs" fill="#1e1e1e" stroke="#1e1e1e" stroke-width="0.220">0.4</text>
<line x1="422.90" y1="951.10" x2="426.50" y2="951.10" stroke="#1e1e1e" stroke-width="1.00"/>
<text x="411.42" y="953.40" font-size="7.00" textLength="9.73" lengthAdjust="spacingAndGlyphs" fill="#1e1e1e" stroke="#1e1e1e" stroke-width="0.220">0.2</text>
<line x1="422.90" y1="977.30" x2="426.50" y2="977.30" stroke="#1e1e1e" stroke-width="1.00"/>
<text x="411.34" y="979.60" font-size="7.00" textLength="9.73" lengthAdjust="spacingAndGlyphs" fill="#1e1e1e" stroke="#1e1e1e" stroke-width="0.220">0.0</text>
<line x1="446.00" y1="977.30" x2="446.00" y2="979.60" stroke="#1e1e1e" stroke-width="1.00"/>
<line x1="474.70" y1="977.30" x2="474.70" y2="979.60" stroke="#1e1e1e" stroke-width="1.00"/>
<line x1="446.00" y1="897.40" x2="446.00" y2="935.50" stroke="#111" stroke-width="1.30"/>
<line x1="441.10" y1="897.40" x2="450.90" y2="897.40" stroke="#111" stroke-width="1.30"/>
<line x1="441.10" y1="935.50" x2="450.90" y2="935.50" stroke="#111" stroke-width="1.30"/>
<circle cx="446.00" cy="894.60" r="2.20" fill="#111"/>
<circle cx="446.00" cy="909.00" r="2.20" fill="#111"/>
<circle cx="446.00" cy="927.70" r="2.20" fill="#111"/>
<circle cx="446.00" cy="936.40" r="2.20" fill="#111"/>
<line x1="474.70" y1="930.50" x2="474.70" y2="952.70" stroke="#3fa462" stroke-width="1.30"/>
<line x1="469.80" y1="930.50" x2="479.60" y2="930.50" stroke="#3fa462" stroke-width="1.30"/>
<line x1="469.80" y1="952.70" x2="479.60" y2="952.70" stroke="#3fa462" stroke-width="1.30"/>
<circle cx="474.70" cy="923.00" r="2.20" fill="#3fa462"/>
<circle cx="472.90" cy="937.10" r="2.20" fill="#3fa462"/>
<circle cx="467.70" cy="940.10" r="2.20" fill="#3fa462"/>
<circle cx="481.80" cy="940.10" r="2.20" fill="#3fa462"/>
<circle cx="477.10" cy="941.80" r="2.20" fill="#3fa462"/>
<circle cx="474.70" cy="957.40" r="2.20" fill="#3fa462"/>
<line x1="446.70" y1="877.50" x2="472.90" y2="877.50" stroke="#707070" stroke-width="1.00"/>
<text x="451.57" y="875.30" font-size="6.90" textLength="16.56" lengthAdjust="spacingAndGlyphs" fill="#1e1e1e" stroke="#1e1e1e" stroke-width="0.217">0.02</text>
<text x="449.59" y="859.30" font-size="8.80" textLength="20.78" lengthAdjust="spacingAndGlyphs" fill="#1a1a1a" stroke="#1a1a1a" stroke-width="0.220">Kcnv1</text>
<text x="435.81" y="989.20" font-size="7.90" textLength="19.94" lengthAdjust="spacingAndGlyphs" fill="#1e1e1e" stroke="#1e1e1e" stroke-width="0.220">CTRL</text>
<text x="466.45" y="989.20" font-size="7.90" textLength="15.89" lengthAdjust="spacingAndGlyphs" fill="#1e1e1e" stroke="#1e1e1e" stroke-width="0.220">EAE</text>
<text x="401.00" y="975.31" font-size="9.40" textLength="101.92" lengthAdjust="spacingAndGlyphs" fill="#1e1e1e" stroke="#1e1e1e" stroke-width="0.220" transform="rotate(-90 401.00 975.31)">2^-DCt (Normalized on L34)</text>
<path d="M585.45,977.10 V904.95 H602.55 V977.10" fill="none" stroke="#111" stroke-width="1.90" stroke-linejoin="miter"/>
<path d="M614.65,977.10 V933.55 H632.15 V977.10" fill="none" stroke="#3fa462" stroke-width="1.90" stroke-linejoin="miter"/>
<line x1="575.00" y1="873.00" x2="575.00" y2="977.70" stroke="#1e1e1e" stroke-width="1.20"/>
<line x1="574.40" y1="977.10" x2="643.30" y2="977.10" stroke="#1e1e1e" stroke-width="1.20"/>
<line x1="571.40" y1="873.30" x2="575.00" y2="873.30" stroke="#1e1e1e" stroke-width="1.00"/>
<text x="559.37" y="875.60" font-size="7.00" textLength="9.73" lengthAdjust="spacingAndGlyphs" fill="#1e1e1e" stroke="#1e1e1e" stroke-width="0.220">0.4</text>
<line x1="571.40" y1="899.60" x2="575.00" y2="899.60" stroke="#1e1e1e" stroke-width="1.00"/>
<text x="559.48" y="901.90" font-size="7.00" textLength="9.73" lengthAdjust="spacingAndGlyphs" fill="#1e1e1e" stroke="#1e1e1e" stroke-width="0.220">0.3</text>
<line x1="571.40" y1="925.60" x2="575.00" y2="925.60" stroke="#1e1e1e" stroke-width="1.00"/>
<text x="559.52" y="927.90" font-size="7.00" textLength="9.73" lengthAdjust="spacingAndGlyphs" fill="#1e1e1e" stroke="#1e1e1e" stroke-width="0.220">0.2</text>
<line x1="571.40" y1="951.40" x2="575.00" y2="951.40" stroke="#1e1e1e" stroke-width="1.00"/>
<text x="559.51" y="953.70" font-size="7.00" textLength="9.73" lengthAdjust="spacingAndGlyphs" fill="#1e1e1e" stroke="#1e1e1e" stroke-width="0.220">0.1</text>
<line x1="571.40" y1="977.10" x2="575.00" y2="977.10" stroke="#1e1e1e" stroke-width="1.00"/>
<text x="559.44" y="979.40" font-size="7.00" textLength="9.73" lengthAdjust="spacingAndGlyphs" fill="#1e1e1e" stroke="#1e1e1e" stroke-width="0.220">0.0</text>
<line x1="594.20" y1="977.10" x2="594.20" y2="979.40" stroke="#1e1e1e" stroke-width="1.00"/>
<line x1="623.60" y1="977.10" x2="623.60" y2="979.40" stroke="#1e1e1e" stroke-width="1.00"/>
<line x1="594.20" y1="896.40" x2="594.20" y2="911.20" stroke="#111" stroke-width="1.30"/>
<line x1="589.30" y1="896.40" x2="599.10" y2="896.40" stroke="#111" stroke-width="1.30"/>
<line x1="589.30" y1="911.20" x2="599.10" y2="911.20" stroke="#111" stroke-width="1.30"/>
<circle cx="594.60" cy="893.90" r="2.20" fill="#111"/>
<circle cx="594.00" cy="902.30" r="2.20" fill="#111"/>
<circle cx="598.20" cy="908.30" r="2.20" fill="#111"/>
<circle cx="590.20" cy="911.40" r="2.20" fill="#111"/>
<line x1="623.60" y1="921.40" x2="623.60" y2="944.30" stroke="#3fa462" stroke-width="1.30"/>
<line x1="618.70" y1="921.40" x2="628.50" y2="921.40" stroke="#3fa462" stroke-width="1.30"/>
<line x1="618.70" y1="944.30" x2="628.50" y2="944.30" stroke="#3fa462" stroke-width="1.30"/>
<circle cx="619.40" cy="919.90" r="2.20" fill="#3fa462"/>
<circle cx="627.20" cy="919.90" r="2.20" fill="#3fa462"/>
<circle cx="619.40" cy="929.40" r="2.20" fill="#3fa462"/>
<circle cx="626.80" cy="933.00" r="2.20" fill="#3fa462"/>
<circle cx="619.40" cy="935.00" r="2.20" fill="#3fa462"/>
<circle cx="627.20" cy="937.90" r="2.20" fill="#3fa462"/>
<circle cx="623.60" cy="953.80" r="2.20" fill="#3fa462"/>
<line x1="594.60" y1="877.60" x2="623.60" y2="877.60" stroke="#707070" stroke-width="1.00"/>
<text x="599.40" y="875.40" font-size="6.90" textLength="19.27" lengthAdjust="spacingAndGlyphs" fill="#1e1e1e" stroke="#1e1e1e" stroke-width="0.217">0.009</text>
<text x="596.88" y="859.30" font-size="8.80" textLength="22.96" lengthAdjust="spacingAndGlyphs" fill="#1a1a1a" stroke="#1a1a1a" stroke-width="0.220">Nptx2</text>
<text x="584.01" y="989.20" font-size="7.90" textLength="19.94" lengthAdjust="spacingAndGlyphs" fill="#1e1e1e" stroke="#1e1e1e" stroke-width="0.220">CTRL</text>
<text x="615.35" y="989.20" font-size="7.90" textLength="15.89" lengthAdjust="spacingAndGlyphs" fill="#1e1e1e" stroke="#1e1e1e" stroke-width="0.220">EAE</text>
<text x="547.90" y="975.31" font-size="9.40" textLength="101.92" lengthAdjust="spacingAndGlyphs" fill="#1e1e1e" stroke="#1e1e1e" stroke-width="0.220" transform="rotate(-90 547.90 975.31)">2^-DCt (Normalized on L34)</text>
</svg></body></html>
